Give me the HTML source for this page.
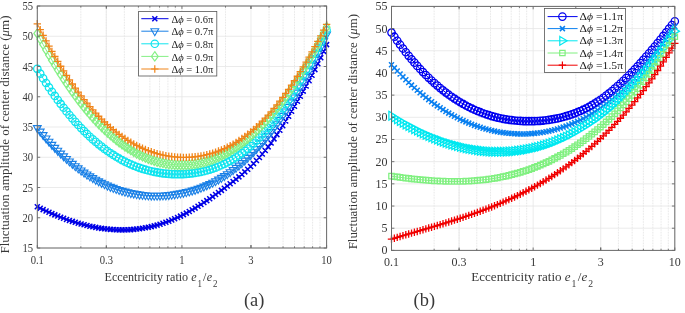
<!DOCTYPE html>
<html><head><meta charset="utf-8"><style>
html,body{margin:0;padding:0;background:#fff;width:685px;height:313px;overflow:hidden}
svg{display:block}
text{font-family:"Liberation Serif",serif}
.lg{fill:#1a1a1a}
</style></head><body>
<svg width="685" height="313" viewBox="0 0 685 313">
<defs>
<clipPath id="cl"><rect x="31.299999999999997" y="0.0" width="301.3" height="254.0"/></clipPath>
<clipPath id="cr"><rect x="385.5" y="0.40000000000000036" width="295.29999999999995" height="256.0"/></clipPath>
</defs>
<rect width="685" height="313" fill="#fff"/>
<line x1="80.84" y1="6.0" x2="80.84" y2="248.0" stroke="#dcdcdc" stroke-width="0.8" stroke-dasharray="0.8 0.8"/>
<line x1="106.32" y1="6.0" x2="106.32" y2="248.0" stroke="#dcdcdc" stroke-width="0.8" stroke-dasharray="0.8 0.8"/>
<line x1="124.39" y1="6.0" x2="124.39" y2="248.0" stroke="#dcdcdc" stroke-width="0.8" stroke-dasharray="0.8 0.8"/>
<line x1="138.41" y1="6.0" x2="138.41" y2="248.0" stroke="#dcdcdc" stroke-width="0.8" stroke-dasharray="0.8 0.8"/>
<line x1="149.86" y1="6.0" x2="149.86" y2="248.0" stroke="#dcdcdc" stroke-width="0.8" stroke-dasharray="0.8 0.8"/>
<line x1="159.54" y1="6.0" x2="159.54" y2="248.0" stroke="#dcdcdc" stroke-width="0.8" stroke-dasharray="0.8 0.8"/>
<line x1="167.93" y1="6.0" x2="167.93" y2="248.0" stroke="#dcdcdc" stroke-width="0.8" stroke-dasharray="0.8 0.8"/>
<line x1="175.33" y1="6.0" x2="175.33" y2="248.0" stroke="#dcdcdc" stroke-width="0.8" stroke-dasharray="0.8 0.8"/>
<line x1="225.49" y1="6.0" x2="225.49" y2="248.0" stroke="#dcdcdc" stroke-width="0.8" stroke-dasharray="0.8 0.8"/>
<line x1="269.04" y1="6.0" x2="269.04" y2="248.0" stroke="#dcdcdc" stroke-width="0.8" stroke-dasharray="0.8 0.8"/>
<line x1="283.06" y1="6.0" x2="283.06" y2="248.0" stroke="#dcdcdc" stroke-width="0.8" stroke-dasharray="0.8 0.8"/>
<line x1="294.51" y1="6.0" x2="294.51" y2="248.0" stroke="#dcdcdc" stroke-width="0.8" stroke-dasharray="0.8 0.8"/>
<line x1="304.19" y1="6.0" x2="304.19" y2="248.0" stroke="#dcdcdc" stroke-width="0.8" stroke-dasharray="0.8 0.8"/>
<line x1="312.58" y1="6.0" x2="312.58" y2="248.0" stroke="#dcdcdc" stroke-width="0.8" stroke-dasharray="0.8 0.8"/>
<line x1="319.98" y1="6.0" x2="319.98" y2="248.0" stroke="#dcdcdc" stroke-width="0.8" stroke-dasharray="0.8 0.8"/>
<line x1="37.30" y1="6.0" x2="37.30" y2="248.0" stroke="#e6e6e6" stroke-width="0.8"/>
<line x1="106.32" y1="6.0" x2="106.32" y2="248.0" stroke="#e6e6e6" stroke-width="0.8"/>
<line x1="181.95" y1="6.0" x2="181.95" y2="248.0" stroke="#e6e6e6" stroke-width="0.8"/>
<line x1="250.97" y1="6.0" x2="250.97" y2="248.0" stroke="#e6e6e6" stroke-width="0.8"/>
<line x1="326.60" y1="6.0" x2="326.60" y2="248.0" stroke="#e6e6e6" stroke-width="0.8"/>
<line x1="37.3" y1="248.00" x2="326.6" y2="248.00" stroke="#e6e6e6" stroke-width="0.8"/>
<line x1="37.3" y1="217.75" x2="326.6" y2="217.75" stroke="#e6e6e6" stroke-width="0.8"/>
<line x1="37.3" y1="187.50" x2="326.6" y2="187.50" stroke="#e6e6e6" stroke-width="0.8"/>
<line x1="37.3" y1="157.25" x2="326.6" y2="157.25" stroke="#e6e6e6" stroke-width="0.8"/>
<line x1="37.3" y1="127.00" x2="326.6" y2="127.00" stroke="#e6e6e6" stroke-width="0.8"/>
<line x1="37.3" y1="96.75" x2="326.6" y2="96.75" stroke="#e6e6e6" stroke-width="0.8"/>
<line x1="37.3" y1="66.50" x2="326.6" y2="66.50" stroke="#e6e6e6" stroke-width="0.8"/>
<line x1="37.3" y1="36.25" x2="326.6" y2="36.25" stroke="#e6e6e6" stroke-width="0.8"/>
<line x1="37.3" y1="6.00" x2="326.6" y2="6.00" stroke="#e6e6e6" stroke-width="0.8"/>
<line x1="434.14" y1="6.4" x2="434.14" y2="250.4" stroke="#dcdcdc" stroke-width="0.8" stroke-dasharray="0.8 0.8"/>
<line x1="459.08" y1="6.4" x2="459.08" y2="250.4" stroke="#dcdcdc" stroke-width="0.8" stroke-dasharray="0.8 0.8"/>
<line x1="476.78" y1="6.4" x2="476.78" y2="250.4" stroke="#dcdcdc" stroke-width="0.8" stroke-dasharray="0.8 0.8"/>
<line x1="490.51" y1="6.4" x2="490.51" y2="250.4" stroke="#dcdcdc" stroke-width="0.8" stroke-dasharray="0.8 0.8"/>
<line x1="501.73" y1="6.4" x2="501.73" y2="250.4" stroke="#dcdcdc" stroke-width="0.8" stroke-dasharray="0.8 0.8"/>
<line x1="511.21" y1="6.4" x2="511.21" y2="250.4" stroke="#dcdcdc" stroke-width="0.8" stroke-dasharray="0.8 0.8"/>
<line x1="519.42" y1="6.4" x2="519.42" y2="250.4" stroke="#dcdcdc" stroke-width="0.8" stroke-dasharray="0.8 0.8"/>
<line x1="526.67" y1="6.4" x2="526.67" y2="250.4" stroke="#dcdcdc" stroke-width="0.8" stroke-dasharray="0.8 0.8"/>
<line x1="575.79" y1="6.4" x2="575.79" y2="250.4" stroke="#dcdcdc" stroke-width="0.8" stroke-dasharray="0.8 0.8"/>
<line x1="618.43" y1="6.4" x2="618.43" y2="250.4" stroke="#dcdcdc" stroke-width="0.8" stroke-dasharray="0.8 0.8"/>
<line x1="632.16" y1="6.4" x2="632.16" y2="250.4" stroke="#dcdcdc" stroke-width="0.8" stroke-dasharray="0.8 0.8"/>
<line x1="643.38" y1="6.4" x2="643.38" y2="250.4" stroke="#dcdcdc" stroke-width="0.8" stroke-dasharray="0.8 0.8"/>
<line x1="652.86" y1="6.4" x2="652.86" y2="250.4" stroke="#dcdcdc" stroke-width="0.8" stroke-dasharray="0.8 0.8"/>
<line x1="661.07" y1="6.4" x2="661.07" y2="250.4" stroke="#dcdcdc" stroke-width="0.8" stroke-dasharray="0.8 0.8"/>
<line x1="668.32" y1="6.4" x2="668.32" y2="250.4" stroke="#dcdcdc" stroke-width="0.8" stroke-dasharray="0.8 0.8"/>
<line x1="391.50" y1="6.4" x2="391.50" y2="250.4" stroke="#e6e6e6" stroke-width="0.8"/>
<line x1="459.08" y1="6.4" x2="459.08" y2="250.4" stroke="#e6e6e6" stroke-width="0.8"/>
<line x1="533.15" y1="6.4" x2="533.15" y2="250.4" stroke="#e6e6e6" stroke-width="0.8"/>
<line x1="600.73" y1="6.4" x2="600.73" y2="250.4" stroke="#e6e6e6" stroke-width="0.8"/>
<line x1="674.80" y1="6.4" x2="674.80" y2="250.4" stroke="#e6e6e6" stroke-width="0.8"/>
<line x1="391.5" y1="250.40" x2="674.8" y2="250.40" stroke="#e6e6e6" stroke-width="0.8"/>
<line x1="391.5" y1="228.22" x2="674.8" y2="228.22" stroke="#e6e6e6" stroke-width="0.8"/>
<line x1="391.5" y1="206.04" x2="674.8" y2="206.04" stroke="#e6e6e6" stroke-width="0.8"/>
<line x1="391.5" y1="183.85" x2="674.8" y2="183.85" stroke="#e6e6e6" stroke-width="0.8"/>
<line x1="391.5" y1="161.67" x2="674.8" y2="161.67" stroke="#e6e6e6" stroke-width="0.8"/>
<line x1="391.5" y1="139.49" x2="674.8" y2="139.49" stroke="#e6e6e6" stroke-width="0.8"/>
<line x1="391.5" y1="117.31" x2="674.8" y2="117.31" stroke="#e6e6e6" stroke-width="0.8"/>
<line x1="391.5" y1="95.13" x2="674.8" y2="95.13" stroke="#e6e6e6" stroke-width="0.8"/>
<line x1="391.5" y1="72.95" x2="674.8" y2="72.95" stroke="#e6e6e6" stroke-width="0.8"/>
<line x1="391.5" y1="50.76" x2="674.8" y2="50.76" stroke="#e6e6e6" stroke-width="0.8"/>
<line x1="391.5" y1="28.58" x2="674.8" y2="28.58" stroke="#e6e6e6" stroke-width="0.8"/>
<line x1="391.5" y1="6.40" x2="674.8" y2="6.40" stroke="#e6e6e6" stroke-width="0.8"/>
<g clip-path="url(#cl)"><path d="M37.30 206.77L40.22 208.21L43.14 209.62L46.07 210.99L48.99 212.32L51.91 213.61L54.83 214.86L57.76 216.06L60.68 217.22L63.60 218.34L66.52 219.41L69.44 220.43L72.37 221.40L75.29 222.33L78.21 223.21L81.13 224.04L84.06 224.81L86.98 225.54L89.90 226.21L92.82 226.83L95.74 227.40L98.67 227.91L101.59 228.36L104.51 228.76L107.43 229.09L110.36 229.37L113.28 229.59L116.20 229.75L119.12 229.85L122.04 229.88L124.97 229.86L127.89 229.76L130.81 229.61L133.73 229.38L136.66 229.09L139.58 228.73L142.50 228.31L145.42 227.81L148.34 227.24L151.27 226.60L154.19 225.89L157.11 225.11L160.03 224.25L162.96 223.32L165.88 222.31L168.80 221.23L171.72 220.07L174.64 218.83L177.57 217.51L180.49 216.11L183.41 214.64L186.33 213.10L189.26 211.50L192.18 209.83L195.10 208.10L198.02 206.32L200.94 204.48L203.87 202.59L206.79 200.65L209.71 198.67L212.63 196.65L215.56 194.59L218.48 192.50L221.40 190.37L224.32 188.22L227.24 186.04L230.17 183.83L233.09 181.58L236.01 179.27L238.93 176.90L241.86 174.45L244.78 171.90L247.70 169.26L250.62 166.50L253.54 163.61L256.47 160.59L259.39 157.41L262.31 154.08L265.23 150.57L268.16 146.87L271.08 142.98L274.00 138.90L276.92 134.64L279.84 130.23L282.77 125.67L285.69 120.99L288.61 116.19L291.53 111.31L294.46 106.34L297.38 101.31L300.30 96.24L303.22 91.13L306.14 85.95L309.07 80.67L311.99 75.24L314.91 69.64L317.83 63.81L320.76 57.73L323.68 51.35L326.60 44.64" stroke="#0000e6" stroke-width="1" fill="none"/><path d="M34.80 204.27L39.80 209.27M34.80 209.27L39.80 204.27M37.72 205.71L42.72 210.71M37.72 210.71L42.72 205.71M40.64 207.12L45.64 212.12M40.64 212.12L45.64 207.12M43.57 208.49L48.57 213.49M43.57 213.49L48.57 208.49M46.49 209.82L51.49 214.82M46.49 214.82L51.49 209.82M49.41 211.11L54.41 216.11M49.41 216.11L54.41 211.11M52.33 212.36L57.33 217.36M52.33 217.36L57.33 212.36M55.26 213.56L60.26 218.56M55.26 218.56L60.26 213.56M58.18 214.72L63.18 219.72M58.18 219.72L63.18 214.72M61.10 215.84L66.10 220.84M61.10 220.84L66.10 215.84M64.02 216.91L69.02 221.91M64.02 221.91L69.02 216.91M66.94 217.93L71.94 222.93M66.94 222.93L71.94 217.93M69.87 218.90L74.87 223.90M69.87 223.90L74.87 218.90M72.79 219.83L77.79 224.83M72.79 224.83L77.79 219.83M75.71 220.71L80.71 225.71M75.71 225.71L80.71 220.71M78.63 221.54L83.63 226.54M78.63 226.54L83.63 221.54M81.56 222.31L86.56 227.31M81.56 227.31L86.56 222.31M84.48 223.04L89.48 228.04M84.48 228.04L89.48 223.04M87.40 223.71L92.40 228.71M87.40 228.71L92.40 223.71M90.32 224.33L95.32 229.33M90.32 229.33L95.32 224.33M93.24 224.90L98.24 229.90M93.24 229.90L98.24 224.90M96.17 225.41L101.17 230.41M96.17 230.41L101.17 225.41M99.09 225.86L104.09 230.86M99.09 230.86L104.09 225.86M102.01 226.26L107.01 231.26M102.01 231.26L107.01 226.26M104.93 226.59L109.93 231.59M104.93 231.59L109.93 226.59M107.86 226.87L112.86 231.87M107.86 231.87L112.86 226.87M110.78 227.09L115.78 232.09M110.78 232.09L115.78 227.09M113.70 227.25L118.70 232.25M113.70 232.25L118.70 227.25M116.62 227.35L121.62 232.35M116.62 232.35L121.62 227.35M119.54 227.38L124.54 232.38M119.54 232.38L124.54 227.38M122.47 227.36L127.47 232.36M122.47 232.36L127.47 227.36M125.39 227.26L130.39 232.26M125.39 232.26L130.39 227.26M128.31 227.11L133.31 232.11M128.31 232.11L133.31 227.11M131.23 226.88L136.23 231.88M131.23 231.88L136.23 226.88M134.16 226.59L139.16 231.59M134.16 231.59L139.16 226.59M137.08 226.23L142.08 231.23M137.08 231.23L142.08 226.23M140.00 225.81L145.00 230.81M140.00 230.81L145.00 225.81M142.92 225.31L147.92 230.31M142.92 230.31L147.92 225.31M145.84 224.74L150.84 229.74M145.84 229.74L150.84 224.74M148.77 224.10L153.77 229.10M148.77 229.10L153.77 224.10M151.69 223.39L156.69 228.39M151.69 228.39L156.69 223.39M154.61 222.61L159.61 227.61M154.61 227.61L159.61 222.61M157.53 221.75L162.53 226.75M157.53 226.75L162.53 221.75M160.46 220.82L165.46 225.82M160.46 225.82L165.46 220.82M163.38 219.81L168.38 224.81M163.38 224.81L168.38 219.81M166.30 218.73L171.30 223.73M166.30 223.73L171.30 218.73M169.22 217.57L174.22 222.57M169.22 222.57L174.22 217.57M172.14 216.33L177.14 221.33M172.14 221.33L177.14 216.33M175.07 215.01L180.07 220.01M175.07 220.01L180.07 215.01M177.99 213.61L182.99 218.61M177.99 218.61L182.99 213.61M180.91 212.14L185.91 217.14M180.91 217.14L185.91 212.14M183.83 210.60L188.83 215.60M183.83 215.60L188.83 210.60M186.76 209.00L191.76 214.00M186.76 214.00L191.76 209.00M189.68 207.33L194.68 212.33M189.68 212.33L194.68 207.33M192.60 205.60L197.60 210.60M192.60 210.60L197.60 205.60M195.52 203.82L200.52 208.82M195.52 208.82L200.52 203.82M198.44 201.98L203.44 206.98M198.44 206.98L203.44 201.98M201.37 200.09L206.37 205.09M201.37 205.09L206.37 200.09M204.29 198.15L209.29 203.15M204.29 203.15L209.29 198.15M207.21 196.17L212.21 201.17M207.21 201.17L212.21 196.17M210.13 194.15L215.13 199.15M210.13 199.15L215.13 194.15M213.06 192.09L218.06 197.09M213.06 197.09L218.06 192.09M215.98 190.00L220.98 195.00M215.98 195.00L220.98 190.00M218.90 187.87L223.90 192.87M218.90 192.87L223.90 187.87M221.82 185.72L226.82 190.72M221.82 190.72L226.82 185.72M224.74 183.54L229.74 188.54M224.74 188.54L229.74 183.54M227.67 181.33L232.67 186.33M227.67 186.33L232.67 181.33M230.59 179.08L235.59 184.08M230.59 184.08L235.59 179.08M233.51 176.77L238.51 181.77M233.51 181.77L238.51 176.77M236.43 174.40L241.43 179.40M236.43 179.40L241.43 174.40M239.36 171.95L244.36 176.95M239.36 176.95L244.36 171.95M242.28 169.40L247.28 174.40M242.28 174.40L247.28 169.40M245.20 166.76L250.20 171.76M245.20 171.76L250.20 166.76M248.12 164.00L253.12 169.00M248.12 169.00L253.12 164.00M251.04 161.11L256.04 166.11M251.04 166.11L256.04 161.11M253.97 158.09L258.97 163.09M253.97 163.09L258.97 158.09M256.89 154.91L261.89 159.91M256.89 159.91L261.89 154.91M259.81 151.58L264.81 156.58M259.81 156.58L264.81 151.58M262.73 148.07L267.73 153.07M262.73 153.07L267.73 148.07M265.66 144.37L270.66 149.37M265.66 149.37L270.66 144.37M268.58 140.48L273.58 145.48M268.58 145.48L273.58 140.48M271.50 136.40L276.50 141.40M271.50 141.40L276.50 136.40M274.42 132.14L279.42 137.14M274.42 137.14L279.42 132.14M277.34 127.73L282.34 132.73M277.34 132.73L282.34 127.73M280.27 123.17L285.27 128.17M280.27 128.17L285.27 123.17M283.19 118.49L288.19 123.49M283.19 123.49L288.19 118.49M286.11 113.69L291.11 118.69M286.11 118.69L291.11 113.69M289.03 108.81L294.03 113.81M289.03 113.81L294.03 108.81M291.96 103.84L296.96 108.84M291.96 108.84L296.96 103.84M294.88 98.81L299.88 103.81M294.88 103.81L299.88 98.81M297.80 93.74L302.80 98.74M297.80 98.74L302.80 93.74M300.72 88.63L305.72 93.63M300.72 93.63L305.72 88.63M303.64 83.45L308.64 88.45M303.64 88.45L308.64 83.45M306.57 78.17L311.57 83.17M306.57 83.17L311.57 78.17M309.49 72.74L314.49 77.74M309.49 77.74L314.49 72.74M312.41 67.14L317.41 72.14M312.41 72.14L317.41 67.14M315.33 61.31L320.33 66.31M315.33 66.31L320.33 61.31M318.26 55.23L323.26 60.23M318.26 60.23L323.26 55.23M321.18 48.85L326.18 53.85M321.18 53.85L326.18 48.85M324.10 42.14L329.10 47.14M324.10 47.14L329.10 42.14" stroke="#0000e6" stroke-width="1.5" fill="none"/><path d="M37.30 128.08L40.22 131.65L43.14 135.11L46.07 138.46L48.99 141.70L51.91 144.84L54.83 147.86L57.76 150.79L60.68 153.61L63.60 156.33L66.52 158.95L69.44 161.46L72.37 163.88L75.29 166.20L78.21 168.42L81.13 170.55L84.06 172.58L86.98 174.52L89.90 176.36L92.82 178.12L95.74 179.78L98.67 181.35L101.59 182.84L104.51 184.24L107.43 185.55L110.36 186.77L113.28 187.91L116.20 188.97L119.12 189.95L122.04 190.84L124.97 191.66L127.89 192.40L130.81 193.06L133.73 193.64L136.66 194.15L139.58 194.58L142.50 194.94L145.42 195.22L148.34 195.44L151.27 195.59L154.19 195.66L157.11 195.67L160.03 195.61L162.96 195.49L165.88 195.30L168.80 195.05L171.72 194.73L174.64 194.35L177.57 193.91L180.49 193.40L183.41 192.82L186.33 192.16L189.26 191.44L192.18 190.63L195.10 189.75L198.02 188.79L200.94 187.74L203.87 186.61L206.79 185.39L209.71 184.08L212.63 182.68L215.56 181.19L218.48 179.60L221.40 177.91L224.32 176.12L227.24 174.23L230.17 172.23L233.09 170.13L236.01 167.91L238.93 165.59L241.86 163.15L244.78 160.59L247.70 157.91L250.62 155.12L253.54 152.20L256.47 149.16L259.39 145.99L262.31 142.70L265.23 139.27L268.16 135.71L271.08 132.03L274.00 128.20L276.92 124.24L279.84 120.15L282.77 115.91L285.69 111.53L288.61 107.02L291.53 102.35L294.46 97.54L297.38 92.59L300.30 87.48L303.22 82.23L306.14 76.82L309.07 71.26L311.99 65.54L314.91 59.67L317.83 53.64L320.76 47.44L323.68 41.09L326.60 34.57" stroke="#1a80e6" stroke-width="1" fill="none"/><path d="M33.40 125.58H41.20L37.30 132.58ZM36.32 129.15H44.12L40.22 136.15ZM39.24 132.61H47.04L43.14 139.61ZM42.17 135.96H49.97L46.07 142.96ZM45.09 139.20H52.89L48.99 146.20ZM48.01 142.34H55.81L51.91 149.34ZM50.93 145.36H58.73L54.83 152.36ZM53.86 148.29H61.66L57.76 155.29ZM56.78 151.11H64.58L60.68 158.11ZM59.70 153.83H67.50L63.60 160.83ZM62.62 156.45H70.42L66.52 163.45ZM65.54 158.96H73.34L69.44 165.96ZM68.47 161.38H76.27L72.37 168.38ZM71.39 163.70H79.19L75.29 170.70ZM74.31 165.92H82.11L78.21 172.92ZM77.23 168.05H85.03L81.13 175.05ZM80.16 170.08H87.96L84.06 177.08ZM83.08 172.02H90.88L86.98 179.02ZM86.00 173.86H93.80L89.90 180.86ZM88.92 175.62H96.72L92.82 182.62ZM91.84 177.28H99.64L95.74 184.28ZM94.77 178.85H102.57L98.67 185.85ZM97.69 180.34H105.49L101.59 187.34ZM100.61 181.74H108.41L104.51 188.74ZM103.53 183.05H111.33L107.43 190.05ZM106.46 184.27H114.26L110.36 191.27ZM109.38 185.41H117.18L113.28 192.41ZM112.30 186.47H120.10L116.20 193.47ZM115.22 187.45H123.02L119.12 194.45ZM118.14 188.34H125.94L122.04 195.34ZM121.07 189.16H128.87L124.97 196.16ZM123.99 189.90H131.79L127.89 196.90ZM126.91 190.56H134.71L130.81 197.56ZM129.83 191.14H137.63L133.73 198.14ZM132.76 191.65H140.56L136.66 198.65ZM135.68 192.08H143.48L139.58 199.08ZM138.60 192.44H146.40L142.50 199.44ZM141.52 192.72H149.32L145.42 199.72ZM144.44 192.94H152.24L148.34 199.94ZM147.37 193.09H155.17L151.27 200.09ZM150.29 193.16H158.09L154.19 200.16ZM153.21 193.17H161.01L157.11 200.17ZM156.13 193.11H163.93L160.03 200.11ZM159.06 192.99H166.86L162.96 199.99ZM161.98 192.80H169.78L165.88 199.80ZM164.90 192.55H172.70L168.80 199.55ZM167.82 192.23H175.62L171.72 199.23ZM170.74 191.85H178.54L174.64 198.85ZM173.67 191.41H181.47L177.57 198.41ZM176.59 190.90H184.39L180.49 197.90ZM179.51 190.32H187.31L183.41 197.32ZM182.43 189.66H190.23L186.33 196.66ZM185.36 188.94H193.16L189.26 195.94ZM188.28 188.13H196.08L192.18 195.13ZM191.20 187.25H199.00L195.10 194.25ZM194.12 186.29H201.92L198.02 193.29ZM197.04 185.24H204.84L200.94 192.24ZM199.97 184.11H207.77L203.87 191.11ZM202.89 182.89H210.69L206.79 189.89ZM205.81 181.58H213.61L209.71 188.58ZM208.73 180.18H216.53L212.63 187.18ZM211.66 178.69H219.46L215.56 185.69ZM214.58 177.10H222.38L218.48 184.10ZM217.50 175.41H225.30L221.40 182.41ZM220.42 173.62H228.22L224.32 180.62ZM223.34 171.73H231.14L227.24 178.73ZM226.27 169.73H234.07L230.17 176.73ZM229.19 167.63H236.99L233.09 174.63ZM232.11 165.41H239.91L236.01 172.41ZM235.03 163.09H242.83L238.93 170.09ZM237.96 160.65H245.76L241.86 167.65ZM240.88 158.09H248.68L244.78 165.09ZM243.80 155.41H251.60L247.70 162.41ZM246.72 152.62H254.52L250.62 159.62ZM249.64 149.70H257.44L253.54 156.70ZM252.57 146.66H260.37L256.47 153.66ZM255.49 143.49H263.29L259.39 150.49ZM258.41 140.20H266.21L262.31 147.20ZM261.33 136.77H269.13L265.23 143.77ZM264.26 133.21H272.06L268.16 140.21ZM267.18 129.53H274.98L271.08 136.53ZM270.10 125.70H277.90L274.00 132.70ZM273.02 121.74H280.82L276.92 128.74ZM275.94 117.65H283.74L279.84 124.65ZM278.87 113.41H286.67L282.77 120.41ZM281.79 109.03H289.59L285.69 116.03ZM284.71 104.52H292.51L288.61 111.52ZM287.63 99.85H295.43L291.53 106.85ZM290.56 95.04H298.36L294.46 102.04ZM293.48 90.09H301.28L297.38 97.09ZM296.40 84.98H304.20L300.30 91.98ZM299.32 79.73H307.12L303.22 86.73ZM302.24 74.32H310.04L306.14 81.32ZM305.17 68.76H312.97L309.07 75.76ZM308.09 63.04H315.89L311.99 70.04ZM311.01 57.17H318.81L314.91 64.17ZM313.93 51.14H321.73L317.83 58.14ZM316.86 44.94H324.66L320.76 51.94ZM319.78 38.59H327.58L323.68 45.59ZM322.70 32.07H330.50L326.60 39.07Z" stroke="#1a80e6" stroke-width="1.1" fill="none"/><path d="M37.30 68.85L40.22 73.69L43.14 78.40L46.07 82.98L48.99 87.43L51.91 91.75L54.83 95.94L57.76 100.00L60.68 103.94L63.60 107.75L66.52 111.45L69.44 115.02L72.37 118.47L75.29 121.80L78.21 125.01L81.13 128.11L84.06 131.10L86.98 133.97L89.90 136.73L92.82 139.38L95.74 141.92L98.67 144.35L101.59 146.67L104.51 148.89L107.43 151.01L110.36 153.03L113.28 154.94L116.20 156.75L119.12 158.47L122.04 160.09L124.97 161.61L127.89 163.04L130.81 164.38L133.73 165.62L136.66 166.78L139.58 167.84L142.50 168.82L145.42 169.71L148.34 170.52L151.27 171.25L154.19 171.89L157.11 172.45L160.03 172.93L162.96 173.34L165.88 173.66L168.80 173.92L171.72 174.09L174.64 174.20L177.57 174.23L180.49 174.20L183.41 174.10L186.33 173.92L189.26 173.68L192.18 173.35L195.10 172.95L198.02 172.47L200.94 171.90L203.87 171.24L206.79 170.49L209.71 169.65L212.63 168.71L215.56 167.66L218.48 166.51L221.40 165.26L224.32 163.89L227.24 162.40L230.17 160.80L233.09 159.08L236.01 157.23L238.93 155.26L241.86 153.16L244.78 150.92L247.70 148.55L250.62 146.03L253.54 143.37L256.47 140.57L259.39 137.62L262.31 134.51L265.23 131.24L268.16 127.82L271.08 124.24L274.00 120.49L276.92 116.59L279.84 112.53L282.77 108.33L285.69 103.98L288.61 99.49L291.53 94.87L294.46 90.11L297.38 85.22L300.30 80.21L303.22 75.09L306.14 69.84L309.07 64.49L311.99 59.02L314.91 53.45L317.83 47.79L320.76 42.03L323.68 36.17L326.60 30.23" stroke="#10e4ee" stroke-width="1" fill="none"/><path d="M33.60 68.85a3.7 3.7 0 1 0 7.4 0a3.7 3.7 0 1 0 -7.4 0M36.52 73.69a3.7 3.7 0 1 0 7.4 0a3.7 3.7 0 1 0 -7.4 0M39.44 78.40a3.7 3.7 0 1 0 7.4 0a3.7 3.7 0 1 0 -7.4 0M42.37 82.98a3.7 3.7 0 1 0 7.4 0a3.7 3.7 0 1 0 -7.4 0M45.29 87.43a3.7 3.7 0 1 0 7.4 0a3.7 3.7 0 1 0 -7.4 0M48.21 91.75a3.7 3.7 0 1 0 7.4 0a3.7 3.7 0 1 0 -7.4 0M51.13 95.94a3.7 3.7 0 1 0 7.4 0a3.7 3.7 0 1 0 -7.4 0M54.06 100.00a3.7 3.7 0 1 0 7.4 0a3.7 3.7 0 1 0 -7.4 0M56.98 103.94a3.7 3.7 0 1 0 7.4 0a3.7 3.7 0 1 0 -7.4 0M59.90 107.75a3.7 3.7 0 1 0 7.4 0a3.7 3.7 0 1 0 -7.4 0M62.82 111.45a3.7 3.7 0 1 0 7.4 0a3.7 3.7 0 1 0 -7.4 0M65.74 115.02a3.7 3.7 0 1 0 7.4 0a3.7 3.7 0 1 0 -7.4 0M68.67 118.47a3.7 3.7 0 1 0 7.4 0a3.7 3.7 0 1 0 -7.4 0M71.59 121.80a3.7 3.7 0 1 0 7.4 0a3.7 3.7 0 1 0 -7.4 0M74.51 125.01a3.7 3.7 0 1 0 7.4 0a3.7 3.7 0 1 0 -7.4 0M77.43 128.11a3.7 3.7 0 1 0 7.4 0a3.7 3.7 0 1 0 -7.4 0M80.36 131.10a3.7 3.7 0 1 0 7.4 0a3.7 3.7 0 1 0 -7.4 0M83.28 133.97a3.7 3.7 0 1 0 7.4 0a3.7 3.7 0 1 0 -7.4 0M86.20 136.73a3.7 3.7 0 1 0 7.4 0a3.7 3.7 0 1 0 -7.4 0M89.12 139.38a3.7 3.7 0 1 0 7.4 0a3.7 3.7 0 1 0 -7.4 0M92.04 141.92a3.7 3.7 0 1 0 7.4 0a3.7 3.7 0 1 0 -7.4 0M94.97 144.35a3.7 3.7 0 1 0 7.4 0a3.7 3.7 0 1 0 -7.4 0M97.89 146.67a3.7 3.7 0 1 0 7.4 0a3.7 3.7 0 1 0 -7.4 0M100.81 148.89a3.7 3.7 0 1 0 7.4 0a3.7 3.7 0 1 0 -7.4 0M103.73 151.01a3.7 3.7 0 1 0 7.4 0a3.7 3.7 0 1 0 -7.4 0M106.66 153.03a3.7 3.7 0 1 0 7.4 0a3.7 3.7 0 1 0 -7.4 0M109.58 154.94a3.7 3.7 0 1 0 7.4 0a3.7 3.7 0 1 0 -7.4 0M112.50 156.75a3.7 3.7 0 1 0 7.4 0a3.7 3.7 0 1 0 -7.4 0M115.42 158.47a3.7 3.7 0 1 0 7.4 0a3.7 3.7 0 1 0 -7.4 0M118.34 160.09a3.7 3.7 0 1 0 7.4 0a3.7 3.7 0 1 0 -7.4 0M121.27 161.61a3.7 3.7 0 1 0 7.4 0a3.7 3.7 0 1 0 -7.4 0M124.19 163.04a3.7 3.7 0 1 0 7.4 0a3.7 3.7 0 1 0 -7.4 0M127.11 164.38a3.7 3.7 0 1 0 7.4 0a3.7 3.7 0 1 0 -7.4 0M130.03 165.62a3.7 3.7 0 1 0 7.4 0a3.7 3.7 0 1 0 -7.4 0M132.96 166.78a3.7 3.7 0 1 0 7.4 0a3.7 3.7 0 1 0 -7.4 0M135.88 167.84a3.7 3.7 0 1 0 7.4 0a3.7 3.7 0 1 0 -7.4 0M138.80 168.82a3.7 3.7 0 1 0 7.4 0a3.7 3.7 0 1 0 -7.4 0M141.72 169.71a3.7 3.7 0 1 0 7.4 0a3.7 3.7 0 1 0 -7.4 0M144.64 170.52a3.7 3.7 0 1 0 7.4 0a3.7 3.7 0 1 0 -7.4 0M147.57 171.25a3.7 3.7 0 1 0 7.4 0a3.7 3.7 0 1 0 -7.4 0M150.49 171.89a3.7 3.7 0 1 0 7.4 0a3.7 3.7 0 1 0 -7.4 0M153.41 172.45a3.7 3.7 0 1 0 7.4 0a3.7 3.7 0 1 0 -7.4 0M156.33 172.93a3.7 3.7 0 1 0 7.4 0a3.7 3.7 0 1 0 -7.4 0M159.26 173.34a3.7 3.7 0 1 0 7.4 0a3.7 3.7 0 1 0 -7.4 0M162.18 173.66a3.7 3.7 0 1 0 7.4 0a3.7 3.7 0 1 0 -7.4 0M165.10 173.92a3.7 3.7 0 1 0 7.4 0a3.7 3.7 0 1 0 -7.4 0M168.02 174.09a3.7 3.7 0 1 0 7.4 0a3.7 3.7 0 1 0 -7.4 0M170.94 174.20a3.7 3.7 0 1 0 7.4 0a3.7 3.7 0 1 0 -7.4 0M173.87 174.23a3.7 3.7 0 1 0 7.4 0a3.7 3.7 0 1 0 -7.4 0M176.79 174.20a3.7 3.7 0 1 0 7.4 0a3.7 3.7 0 1 0 -7.4 0M179.71 174.10a3.7 3.7 0 1 0 7.4 0a3.7 3.7 0 1 0 -7.4 0M182.63 173.92a3.7 3.7 0 1 0 7.4 0a3.7 3.7 0 1 0 -7.4 0M185.56 173.68a3.7 3.7 0 1 0 7.4 0a3.7 3.7 0 1 0 -7.4 0M188.48 173.35a3.7 3.7 0 1 0 7.4 0a3.7 3.7 0 1 0 -7.4 0M191.40 172.95a3.7 3.7 0 1 0 7.4 0a3.7 3.7 0 1 0 -7.4 0M194.32 172.47a3.7 3.7 0 1 0 7.4 0a3.7 3.7 0 1 0 -7.4 0M197.24 171.90a3.7 3.7 0 1 0 7.4 0a3.7 3.7 0 1 0 -7.4 0M200.17 171.24a3.7 3.7 0 1 0 7.4 0a3.7 3.7 0 1 0 -7.4 0M203.09 170.49a3.7 3.7 0 1 0 7.4 0a3.7 3.7 0 1 0 -7.4 0M206.01 169.65a3.7 3.7 0 1 0 7.4 0a3.7 3.7 0 1 0 -7.4 0M208.93 168.71a3.7 3.7 0 1 0 7.4 0a3.7 3.7 0 1 0 -7.4 0M211.86 167.66a3.7 3.7 0 1 0 7.4 0a3.7 3.7 0 1 0 -7.4 0M214.78 166.51a3.7 3.7 0 1 0 7.4 0a3.7 3.7 0 1 0 -7.4 0M217.70 165.26a3.7 3.7 0 1 0 7.4 0a3.7 3.7 0 1 0 -7.4 0M220.62 163.89a3.7 3.7 0 1 0 7.4 0a3.7 3.7 0 1 0 -7.4 0M223.54 162.40a3.7 3.7 0 1 0 7.4 0a3.7 3.7 0 1 0 -7.4 0M226.47 160.80a3.7 3.7 0 1 0 7.4 0a3.7 3.7 0 1 0 -7.4 0M229.39 159.08a3.7 3.7 0 1 0 7.4 0a3.7 3.7 0 1 0 -7.4 0M232.31 157.23a3.7 3.7 0 1 0 7.4 0a3.7 3.7 0 1 0 -7.4 0M235.23 155.26a3.7 3.7 0 1 0 7.4 0a3.7 3.7 0 1 0 -7.4 0M238.16 153.16a3.7 3.7 0 1 0 7.4 0a3.7 3.7 0 1 0 -7.4 0M241.08 150.92a3.7 3.7 0 1 0 7.4 0a3.7 3.7 0 1 0 -7.4 0M244.00 148.55a3.7 3.7 0 1 0 7.4 0a3.7 3.7 0 1 0 -7.4 0M246.92 146.03a3.7 3.7 0 1 0 7.4 0a3.7 3.7 0 1 0 -7.4 0M249.84 143.37a3.7 3.7 0 1 0 7.4 0a3.7 3.7 0 1 0 -7.4 0M252.77 140.57a3.7 3.7 0 1 0 7.4 0a3.7 3.7 0 1 0 -7.4 0M255.69 137.62a3.7 3.7 0 1 0 7.4 0a3.7 3.7 0 1 0 -7.4 0M258.61 134.51a3.7 3.7 0 1 0 7.4 0a3.7 3.7 0 1 0 -7.4 0M261.53 131.24a3.7 3.7 0 1 0 7.4 0a3.7 3.7 0 1 0 -7.4 0M264.46 127.82a3.7 3.7 0 1 0 7.4 0a3.7 3.7 0 1 0 -7.4 0M267.38 124.24a3.7 3.7 0 1 0 7.4 0a3.7 3.7 0 1 0 -7.4 0M270.30 120.49a3.7 3.7 0 1 0 7.4 0a3.7 3.7 0 1 0 -7.4 0M273.22 116.59a3.7 3.7 0 1 0 7.4 0a3.7 3.7 0 1 0 -7.4 0M276.14 112.53a3.7 3.7 0 1 0 7.4 0a3.7 3.7 0 1 0 -7.4 0M279.07 108.33a3.7 3.7 0 1 0 7.4 0a3.7 3.7 0 1 0 -7.4 0M281.99 103.98a3.7 3.7 0 1 0 7.4 0a3.7 3.7 0 1 0 -7.4 0M284.91 99.49a3.7 3.7 0 1 0 7.4 0a3.7 3.7 0 1 0 -7.4 0M287.83 94.87a3.7 3.7 0 1 0 7.4 0a3.7 3.7 0 1 0 -7.4 0M290.76 90.11a3.7 3.7 0 1 0 7.4 0a3.7 3.7 0 1 0 -7.4 0M293.68 85.22a3.7 3.7 0 1 0 7.4 0a3.7 3.7 0 1 0 -7.4 0M296.60 80.21a3.7 3.7 0 1 0 7.4 0a3.7 3.7 0 1 0 -7.4 0M299.52 75.09a3.7 3.7 0 1 0 7.4 0a3.7 3.7 0 1 0 -7.4 0M302.44 69.84a3.7 3.7 0 1 0 7.4 0a3.7 3.7 0 1 0 -7.4 0M305.37 64.49a3.7 3.7 0 1 0 7.4 0a3.7 3.7 0 1 0 -7.4 0M308.29 59.02a3.7 3.7 0 1 0 7.4 0a3.7 3.7 0 1 0 -7.4 0M311.21 53.45a3.7 3.7 0 1 0 7.4 0a3.7 3.7 0 1 0 -7.4 0M314.13 47.79a3.7 3.7 0 1 0 7.4 0a3.7 3.7 0 1 0 -7.4 0M317.06 42.03a3.7 3.7 0 1 0 7.4 0a3.7 3.7 0 1 0 -7.4 0M319.98 36.17a3.7 3.7 0 1 0 7.4 0a3.7 3.7 0 1 0 -7.4 0M322.90 30.23a3.7 3.7 0 1 0 7.4 0a3.7 3.7 0 1 0 -7.4 0" stroke="#10e4ee" stroke-width="1.3" fill="none"/><path d="M37.30 33.49L40.22 39.09L43.14 44.55L46.07 49.87L48.99 55.07L51.91 60.13L54.83 65.06L57.76 69.87L60.68 74.54L63.60 79.08L66.52 83.50L69.44 87.79L72.37 91.96L75.29 96.00L78.21 99.91L81.13 103.70L84.06 107.37L86.98 110.92L89.90 114.35L92.82 117.65L95.74 120.84L98.67 123.91L101.59 126.86L104.51 129.69L107.43 132.41L110.36 135.01L113.28 137.50L116.20 139.87L119.12 142.13L122.04 144.28L124.97 146.32L127.89 148.24L130.81 150.06L133.73 151.77L136.66 153.37L139.58 154.86L142.50 156.25L145.42 157.53L148.34 158.70L151.27 159.78L154.19 160.75L157.11 161.61L160.03 162.38L162.96 163.04L165.88 163.60L168.80 164.07L171.72 164.44L174.64 164.70L177.57 164.88L180.49 164.95L183.41 164.93L186.33 164.82L189.26 164.61L192.18 164.30L195.10 163.90L198.02 163.39L200.94 162.79L203.87 162.08L206.79 161.27L209.71 160.36L212.63 159.34L215.56 158.22L218.48 156.99L221.40 155.65L224.32 154.21L227.24 152.65L230.17 150.99L233.09 149.21L236.01 147.32L238.93 145.31L241.86 143.20L244.78 140.96L247.70 138.61L250.62 136.14L253.54 133.55L256.47 130.84L259.39 128.02L262.31 125.06L265.23 121.99L268.16 118.79L271.08 115.47L274.00 112.02L276.92 108.44L279.84 104.74L282.77 100.91L285.69 96.94L288.61 92.85L291.53 88.62L294.46 84.26L297.38 79.76L300.30 75.13L303.22 70.37L306.14 65.46L309.07 60.42L311.99 55.24L314.91 49.91L317.83 44.45L320.76 38.84L323.68 33.09L326.60 27.19" stroke="#86f086" stroke-width="1" fill="none"/><path d="M37.30 28.79L40.70 33.49L37.30 38.19L33.90 33.49ZM40.22 34.39L43.62 39.09L40.22 43.79L36.82 39.09ZM43.14 39.85L46.54 44.55L43.14 49.25L39.74 44.55ZM46.07 45.17L49.47 49.87L46.07 54.57L42.67 49.87ZM48.99 50.37L52.39 55.07L48.99 59.77L45.59 55.07ZM51.91 55.43L55.31 60.13L51.91 64.83L48.51 60.13ZM54.83 60.36L58.23 65.06L54.83 69.76L51.43 65.06ZM57.76 65.17L61.16 69.87L57.76 74.57L54.36 69.87ZM60.68 69.84L64.08 74.54L60.68 79.24L57.28 74.54ZM63.60 74.38L67.00 79.08L63.60 83.78L60.20 79.08ZM66.52 78.80L69.92 83.50L66.52 88.20L63.12 83.50ZM69.44 83.09L72.84 87.79L69.44 92.49L66.04 87.79ZM72.37 87.26L75.77 91.96L72.37 96.66L68.97 91.96ZM75.29 91.30L78.69 96.00L75.29 100.70L71.89 96.00ZM78.21 95.21L81.61 99.91L78.21 104.61L74.81 99.91ZM81.13 99.00L84.53 103.70L81.13 108.40L77.73 103.70ZM84.06 102.67L87.46 107.37L84.06 112.07L80.66 107.37ZM86.98 106.22L90.38 110.92L86.98 115.62L83.58 110.92ZM89.90 109.65L93.30 114.35L89.90 119.05L86.50 114.35ZM92.82 112.95L96.22 117.65L92.82 122.35L89.42 117.65ZM95.74 116.14L99.14 120.84L95.74 125.54L92.34 120.84ZM98.67 119.21L102.07 123.91L98.67 128.61L95.27 123.91ZM101.59 122.16L104.99 126.86L101.59 131.56L98.19 126.86ZM104.51 124.99L107.91 129.69L104.51 134.39L101.11 129.69ZM107.43 127.71L110.83 132.41L107.43 137.11L104.03 132.41ZM110.36 130.31L113.76 135.01L110.36 139.71L106.96 135.01ZM113.28 132.80L116.68 137.50L113.28 142.20L109.88 137.50ZM116.20 135.17L119.60 139.87L116.20 144.57L112.80 139.87ZM119.12 137.43L122.52 142.13L119.12 146.83L115.72 142.13ZM122.04 139.58L125.44 144.28L122.04 148.98L118.64 144.28ZM124.97 141.62L128.37 146.32L124.97 151.02L121.57 146.32ZM127.89 143.54L131.29 148.24L127.89 152.94L124.49 148.24ZM130.81 145.36L134.21 150.06L130.81 154.76L127.41 150.06ZM133.73 147.07L137.13 151.77L133.73 156.47L130.33 151.77ZM136.66 148.67L140.06 153.37L136.66 158.07L133.26 153.37ZM139.58 150.16L142.98 154.86L139.58 159.56L136.18 154.86ZM142.50 151.55L145.90 156.25L142.50 160.95L139.10 156.25ZM145.42 152.83L148.82 157.53L145.42 162.23L142.02 157.53ZM148.34 154.00L151.74 158.70L148.34 163.40L144.94 158.70ZM151.27 155.08L154.67 159.78L151.27 164.48L147.87 159.78ZM154.19 156.05L157.59 160.75L154.19 165.45L150.79 160.75ZM157.11 156.91L160.51 161.61L157.11 166.31L153.71 161.61ZM160.03 157.68L163.43 162.38L160.03 167.08L156.63 162.38ZM162.96 158.34L166.36 163.04L162.96 167.74L159.56 163.04ZM165.88 158.90L169.28 163.60L165.88 168.30L162.48 163.60ZM168.80 159.37L172.20 164.07L168.80 168.77L165.40 164.07ZM171.72 159.74L175.12 164.44L171.72 169.14L168.32 164.44ZM174.64 160.00L178.04 164.70L174.64 169.40L171.24 164.70ZM177.57 160.18L180.97 164.88L177.57 169.58L174.17 164.88ZM180.49 160.25L183.89 164.95L180.49 169.65L177.09 164.95ZM183.41 160.23L186.81 164.93L183.41 169.63L180.01 164.93ZM186.33 160.12L189.73 164.82L186.33 169.52L182.93 164.82ZM189.26 159.91L192.66 164.61L189.26 169.31L185.86 164.61ZM192.18 159.60L195.58 164.30L192.18 169.00L188.78 164.30ZM195.10 159.20L198.50 163.90L195.10 168.60L191.70 163.90ZM198.02 158.69L201.42 163.39L198.02 168.09L194.62 163.39ZM200.94 158.09L204.34 162.79L200.94 167.49L197.54 162.79ZM203.87 157.38L207.27 162.08L203.87 166.78L200.47 162.08ZM206.79 156.57L210.19 161.27L206.79 165.97L203.39 161.27ZM209.71 155.66L213.11 160.36L209.71 165.06L206.31 160.36ZM212.63 154.64L216.03 159.34L212.63 164.04L209.23 159.34ZM215.56 153.52L218.96 158.22L215.56 162.92L212.16 158.22ZM218.48 152.29L221.88 156.99L218.48 161.69L215.08 156.99ZM221.40 150.95L224.80 155.65L221.40 160.35L218.00 155.65ZM224.32 149.51L227.72 154.21L224.32 158.91L220.92 154.21ZM227.24 147.95L230.64 152.65L227.24 157.35L223.84 152.65ZM230.17 146.29L233.57 150.99L230.17 155.69L226.77 150.99ZM233.09 144.51L236.49 149.21L233.09 153.91L229.69 149.21ZM236.01 142.62L239.41 147.32L236.01 152.02L232.61 147.32ZM238.93 140.61L242.33 145.31L238.93 150.01L235.53 145.31ZM241.86 138.50L245.26 143.20L241.86 147.90L238.46 143.20ZM244.78 136.26L248.18 140.96L244.78 145.66L241.38 140.96ZM247.70 133.91L251.10 138.61L247.70 143.31L244.30 138.61ZM250.62 131.44L254.02 136.14L250.62 140.84L247.22 136.14ZM253.54 128.85L256.94 133.55L253.54 138.25L250.14 133.55ZM256.47 126.14L259.87 130.84L256.47 135.54L253.07 130.84ZM259.39 123.32L262.79 128.02L259.39 132.72L255.99 128.02ZM262.31 120.36L265.71 125.06L262.31 129.76L258.91 125.06ZM265.23 117.29L268.63 121.99L265.23 126.69L261.83 121.99ZM268.16 114.09L271.56 118.79L268.16 123.49L264.76 118.79ZM271.08 110.77L274.48 115.47L271.08 120.17L267.68 115.47ZM274.00 107.32L277.40 112.02L274.00 116.72L270.60 112.02ZM276.92 103.74L280.32 108.44L276.92 113.14L273.52 108.44ZM279.84 100.04L283.24 104.74L279.84 109.44L276.44 104.74ZM282.77 96.21L286.17 100.91L282.77 105.61L279.37 100.91ZM285.69 92.24L289.09 96.94L285.69 101.64L282.29 96.94ZM288.61 88.15L292.01 92.85L288.61 97.55L285.21 92.85ZM291.53 83.92L294.93 88.62L291.53 93.32L288.13 88.62ZM294.46 79.56L297.86 84.26L294.46 88.96L291.06 84.26ZM297.38 75.06L300.78 79.76L297.38 84.46L293.98 79.76ZM300.30 70.43L303.70 75.13L300.30 79.83L296.90 75.13ZM303.22 65.67L306.62 70.37L303.22 75.07L299.82 70.37ZM306.14 60.76L309.54 65.46L306.14 70.16L302.74 65.46ZM309.07 55.72L312.47 60.42L309.07 65.12L305.67 60.42ZM311.99 50.54L315.39 55.24L311.99 59.94L308.59 55.24ZM314.91 45.21L318.31 49.91L314.91 54.61L311.51 49.91ZM317.83 39.75L321.23 44.45L317.83 49.15L314.43 44.45ZM320.76 34.14L324.16 38.84L320.76 43.54L317.36 38.84ZM323.68 28.39L327.08 33.09L323.68 37.79L320.28 33.09ZM326.60 22.49L330.00 27.19L326.60 31.89L323.20 27.19Z" stroke="#86f086" stroke-width="1.3" fill="none"/><path d="M37.30 23.81L40.22 29.63L43.14 35.30L46.07 40.83L48.99 46.20L51.91 51.43L54.83 56.51L57.76 61.45L60.68 66.24L63.60 70.90L66.52 75.41L69.44 79.79L72.37 84.02L75.29 88.13L78.21 92.09L81.13 95.93L84.06 99.63L86.98 103.21L89.90 106.65L92.82 109.97L95.74 113.16L98.67 116.23L101.59 119.18L104.51 122.00L107.43 124.70L110.36 127.29L113.28 129.75L116.20 132.10L119.12 134.34L122.04 136.46L124.97 138.47L127.89 140.37L130.81 142.17L133.73 143.85L136.66 145.43L139.58 146.90L142.50 148.27L145.42 149.53L148.34 150.70L151.27 151.77L154.19 152.74L157.11 153.61L160.03 154.39L162.96 155.07L165.88 155.66L168.80 156.16L171.72 156.57L174.64 156.90L177.57 157.13L180.49 157.28L183.41 157.35L186.33 157.33L189.26 157.23L192.18 157.04L195.10 156.76L198.02 156.38L200.94 155.92L203.87 155.36L206.79 154.70L209.71 153.94L212.63 153.08L215.56 152.12L218.48 151.05L221.40 149.88L224.32 148.60L227.24 147.21L230.17 145.70L233.09 144.09L236.01 142.35L238.93 140.50L241.86 138.53L244.78 136.44L247.70 134.22L250.62 131.88L253.54 129.41L256.47 126.81L259.39 124.08L262.31 121.22L265.23 118.22L268.16 115.09L271.08 111.82L274.00 108.41L276.92 104.86L279.84 101.18L282.77 97.36L285.69 93.41L288.61 89.32L291.53 85.10L294.46 80.75L297.38 76.27L300.30 71.65L303.22 66.91L306.14 62.04L309.07 57.05L311.99 51.93L314.91 46.68L317.83 41.31L320.76 35.81L323.68 30.20L326.60 24.46" stroke="#f08418" stroke-width="1" fill="none"/><path d="M33.60 23.81H41.00M37.30 20.11V27.51M36.52 29.63H43.92M40.22 25.93V33.33M39.44 35.30H46.84M43.14 31.60V39.00M42.37 40.83H49.77M46.07 37.13V44.53M45.29 46.20H52.69M48.99 42.50V49.90M48.21 51.43H55.61M51.91 47.73V55.13M51.13 56.51H58.53M54.83 52.81V60.21M54.06 61.45H61.46M57.76 57.75V65.15M56.98 66.24H64.38M60.68 62.54V69.94M59.90 70.90H67.30M63.60 67.20V74.60M62.82 75.41H70.22M66.52 71.71V79.11M65.74 79.79H73.14M69.44 76.09V83.49M68.67 84.02H76.07M72.37 80.32V87.72M71.59 88.13H78.99M75.29 84.43V91.83M74.51 92.09H81.91M78.21 88.39V95.79M77.43 95.93H84.83M81.13 92.23V99.63M80.36 99.63H87.76M84.06 95.93V103.33M83.28 103.21H90.68M86.98 99.51V106.91M86.20 106.65H93.60M89.90 102.95V110.35M89.12 109.97H96.52M92.82 106.27V113.67M92.04 113.16H99.44M95.74 109.46V116.86M94.97 116.23H102.37M98.67 112.53V119.93M97.89 119.18H105.29M101.59 115.48V122.88M100.81 122.00H108.21M104.51 118.30V125.70M103.73 124.70H111.13M107.43 121.00V128.40M106.66 127.29H114.06M110.36 123.59V130.99M109.58 129.75H116.98M113.28 126.05V133.45M112.50 132.10H119.90M116.20 128.40V135.80M115.42 134.34H122.82M119.12 130.64V138.04M118.34 136.46H125.74M122.04 132.76V140.16M121.27 138.47H128.67M124.97 134.77V142.17M124.19 140.37H131.59M127.89 136.67V144.07M127.11 142.17H134.51M130.81 138.47V145.87M130.03 143.85H137.43M133.73 140.15V147.55M132.96 145.43H140.36M136.66 141.73V149.13M135.88 146.90H143.28M139.58 143.20V150.60M138.80 148.27H146.20M142.50 144.57V151.97M141.72 149.53H149.12M145.42 145.83V153.23M144.64 150.70H152.04M148.34 147.00V154.40M147.57 151.77H154.97M151.27 148.07V155.47M150.49 152.74H157.89M154.19 149.04V156.44M153.41 153.61H160.81M157.11 149.91V157.31M156.33 154.39H163.73M160.03 150.69V158.09M159.26 155.07H166.66M162.96 151.37V158.77M162.18 155.66H169.58M165.88 151.96V159.36M165.10 156.16H172.50M168.80 152.46V159.86M168.02 156.57H175.42M171.72 152.87V160.27M170.94 156.90H178.34M174.64 153.20V160.60M173.87 157.13H181.27M177.57 153.43V160.83M176.79 157.28H184.19M180.49 153.58V160.98M179.71 157.35H187.11M183.41 153.65V161.05M182.63 157.33H190.03M186.33 153.63V161.03M185.56 157.23H192.96M189.26 153.53V160.93M188.48 157.04H195.88M192.18 153.34V160.74M191.40 156.76H198.80M195.10 153.06V160.46M194.32 156.38H201.72M198.02 152.68V160.08M197.24 155.92H204.64M200.94 152.22V159.62M200.17 155.36H207.57M203.87 151.66V159.06M203.09 154.70H210.49M206.79 151.00V158.40M206.01 153.94H213.41M209.71 150.24V157.64M208.93 153.08H216.33M212.63 149.38V156.78M211.86 152.12H219.26M215.56 148.42V155.82M214.78 151.05H222.18M218.48 147.35V154.75M217.70 149.88H225.10M221.40 146.18V153.58M220.62 148.60H228.02M224.32 144.90V152.30M223.54 147.21H230.94M227.24 143.51V150.91M226.47 145.70H233.87M230.17 142.00V149.40M229.39 144.09H236.79M233.09 140.39V147.79M232.31 142.35H239.71M236.01 138.65V146.05M235.23 140.50H242.63M238.93 136.80V144.20M238.16 138.53H245.56M241.86 134.83V142.23M241.08 136.44H248.48M244.78 132.74V140.14M244.00 134.22H251.40M247.70 130.52V137.92M246.92 131.88H254.32M250.62 128.18V135.58M249.84 129.41H257.24M253.54 125.71V133.11M252.77 126.81H260.17M256.47 123.11V130.51M255.69 124.08H263.09M259.39 120.38V127.78M258.61 121.22H266.01M262.31 117.52V124.92M261.53 118.22H268.93M265.23 114.52V121.92M264.46 115.09H271.86M268.16 111.39V118.79M267.38 111.82H274.78M271.08 108.12V115.52M270.30 108.41H277.70M274.00 104.71V112.11M273.22 104.86H280.62M276.92 101.16V108.56M276.14 101.18H283.54M279.84 97.48V104.88M279.07 97.36H286.47M282.77 93.66V101.06M281.99 93.41H289.39M285.69 89.71V97.11M284.91 89.32H292.31M288.61 85.62V93.02M287.83 85.10H295.23M291.53 81.40V88.80M290.76 80.75H298.16M294.46 77.05V84.45M293.68 76.27H301.08M297.38 72.57V79.97M296.60 71.65H304.00M300.30 67.95V75.35M299.52 66.91H306.92M303.22 63.21V70.61M302.44 62.04H309.84M306.14 58.34V65.74M305.37 57.05H312.77M309.07 53.35V60.75M308.29 51.93H315.69M311.99 48.23V55.63M311.21 46.68H318.61M314.91 42.98V50.38M314.13 41.31H321.53M317.83 37.61V45.01M317.06 35.81H324.46M320.76 32.11V39.51M319.98 30.20H327.38M323.68 26.50V33.90M322.90 24.46H330.30M326.60 20.76V28.16" stroke="#f08418" stroke-width="1.3" fill="none"/></g>
<g clip-path="url(#cr)"><path d="M391.50 32.55L394.36 36.72L397.22 40.78L400.08 44.71L402.95 48.53L405.81 52.23L408.67 55.81L411.53 59.28L414.39 62.64L417.25 65.89L420.12 69.03L422.98 72.06L425.84 74.99L428.70 77.81L431.56 80.52L434.42 83.13L437.29 85.65L440.15 88.06L443.01 90.37L445.87 92.59L448.73 94.71L451.59 96.74L454.46 98.68L457.32 100.52L460.18 102.28L463.04 103.95L465.90 105.53L468.76 107.02L471.63 108.44L474.49 109.76L477.35 111.01L480.21 112.18L483.07 113.27L485.93 114.28L488.79 115.22L491.66 116.08L494.52 116.88L497.38 117.60L500.24 118.25L503.10 118.83L505.96 119.34L508.83 119.79L511.69 120.18L514.55 120.50L517.41 120.76L520.27 120.96L523.13 121.10L526.00 121.19L528.86 121.22L531.72 121.20L534.58 121.12L537.44 120.99L540.30 120.80L543.17 120.56L546.03 120.25L548.89 119.89L551.75 119.45L554.61 118.95L557.47 118.38L560.34 117.74L563.20 117.02L566.06 116.22L568.92 115.35L571.78 114.39L574.64 113.35L577.51 112.22L580.37 111.00L583.23 109.69L586.09 108.28L588.95 106.78L591.81 105.18L594.67 103.47L597.54 101.67L600.40 99.75L603.26 97.73L606.12 95.61L608.98 93.38L611.84 91.06L614.71 88.64L617.57 86.13L620.43 83.53L623.29 80.84L626.15 78.07L629.01 75.23L631.88 72.30L634.74 69.30L637.60 66.23L640.46 63.10L643.32 59.89L646.18 56.63L649.05 53.31L651.91 49.93L654.77 46.50L657.63 43.03L660.49 39.50L663.35 35.93L666.22 32.33L669.08 28.68L671.94 25.00L674.80 21.29" stroke="#0000f0" stroke-width="1" fill="none"/><path d="M387.80 32.55a3.7 3.7 0 1 0 7.4 0a3.7 3.7 0 1 0 -7.4 0M390.66 36.72a3.7 3.7 0 1 0 7.4 0a3.7 3.7 0 1 0 -7.4 0M393.52 40.78a3.7 3.7 0 1 0 7.4 0a3.7 3.7 0 1 0 -7.4 0M396.38 44.71a3.7 3.7 0 1 0 7.4 0a3.7 3.7 0 1 0 -7.4 0M399.25 48.53a3.7 3.7 0 1 0 7.4 0a3.7 3.7 0 1 0 -7.4 0M402.11 52.23a3.7 3.7 0 1 0 7.4 0a3.7 3.7 0 1 0 -7.4 0M404.97 55.81a3.7 3.7 0 1 0 7.4 0a3.7 3.7 0 1 0 -7.4 0M407.83 59.28a3.7 3.7 0 1 0 7.4 0a3.7 3.7 0 1 0 -7.4 0M410.69 62.64a3.7 3.7 0 1 0 7.4 0a3.7 3.7 0 1 0 -7.4 0M413.55 65.89a3.7 3.7 0 1 0 7.4 0a3.7 3.7 0 1 0 -7.4 0M416.42 69.03a3.7 3.7 0 1 0 7.4 0a3.7 3.7 0 1 0 -7.4 0M419.28 72.06a3.7 3.7 0 1 0 7.4 0a3.7 3.7 0 1 0 -7.4 0M422.14 74.99a3.7 3.7 0 1 0 7.4 0a3.7 3.7 0 1 0 -7.4 0M425.00 77.81a3.7 3.7 0 1 0 7.4 0a3.7 3.7 0 1 0 -7.4 0M427.86 80.52a3.7 3.7 0 1 0 7.4 0a3.7 3.7 0 1 0 -7.4 0M430.72 83.13a3.7 3.7 0 1 0 7.4 0a3.7 3.7 0 1 0 -7.4 0M433.59 85.65a3.7 3.7 0 1 0 7.4 0a3.7 3.7 0 1 0 -7.4 0M436.45 88.06a3.7 3.7 0 1 0 7.4 0a3.7 3.7 0 1 0 -7.4 0M439.31 90.37a3.7 3.7 0 1 0 7.4 0a3.7 3.7 0 1 0 -7.4 0M442.17 92.59a3.7 3.7 0 1 0 7.4 0a3.7 3.7 0 1 0 -7.4 0M445.03 94.71a3.7 3.7 0 1 0 7.4 0a3.7 3.7 0 1 0 -7.4 0M447.89 96.74a3.7 3.7 0 1 0 7.4 0a3.7 3.7 0 1 0 -7.4 0M450.76 98.68a3.7 3.7 0 1 0 7.4 0a3.7 3.7 0 1 0 -7.4 0M453.62 100.52a3.7 3.7 0 1 0 7.4 0a3.7 3.7 0 1 0 -7.4 0M456.48 102.28a3.7 3.7 0 1 0 7.4 0a3.7 3.7 0 1 0 -7.4 0M459.34 103.95a3.7 3.7 0 1 0 7.4 0a3.7 3.7 0 1 0 -7.4 0M462.20 105.53a3.7 3.7 0 1 0 7.4 0a3.7 3.7 0 1 0 -7.4 0M465.06 107.02a3.7 3.7 0 1 0 7.4 0a3.7 3.7 0 1 0 -7.4 0M467.93 108.44a3.7 3.7 0 1 0 7.4 0a3.7 3.7 0 1 0 -7.4 0M470.79 109.76a3.7 3.7 0 1 0 7.4 0a3.7 3.7 0 1 0 -7.4 0M473.65 111.01a3.7 3.7 0 1 0 7.4 0a3.7 3.7 0 1 0 -7.4 0M476.51 112.18a3.7 3.7 0 1 0 7.4 0a3.7 3.7 0 1 0 -7.4 0M479.37 113.27a3.7 3.7 0 1 0 7.4 0a3.7 3.7 0 1 0 -7.4 0M482.23 114.28a3.7 3.7 0 1 0 7.4 0a3.7 3.7 0 1 0 -7.4 0M485.09 115.22a3.7 3.7 0 1 0 7.4 0a3.7 3.7 0 1 0 -7.4 0M487.96 116.08a3.7 3.7 0 1 0 7.4 0a3.7 3.7 0 1 0 -7.4 0M490.82 116.88a3.7 3.7 0 1 0 7.4 0a3.7 3.7 0 1 0 -7.4 0M493.68 117.60a3.7 3.7 0 1 0 7.4 0a3.7 3.7 0 1 0 -7.4 0M496.54 118.25a3.7 3.7 0 1 0 7.4 0a3.7 3.7 0 1 0 -7.4 0M499.40 118.83a3.7 3.7 0 1 0 7.4 0a3.7 3.7 0 1 0 -7.4 0M502.26 119.34a3.7 3.7 0 1 0 7.4 0a3.7 3.7 0 1 0 -7.4 0M505.13 119.79a3.7 3.7 0 1 0 7.4 0a3.7 3.7 0 1 0 -7.4 0M507.99 120.18a3.7 3.7 0 1 0 7.4 0a3.7 3.7 0 1 0 -7.4 0M510.85 120.50a3.7 3.7 0 1 0 7.4 0a3.7 3.7 0 1 0 -7.4 0M513.71 120.76a3.7 3.7 0 1 0 7.4 0a3.7 3.7 0 1 0 -7.4 0M516.57 120.96a3.7 3.7 0 1 0 7.4 0a3.7 3.7 0 1 0 -7.4 0M519.43 121.10a3.7 3.7 0 1 0 7.4 0a3.7 3.7 0 1 0 -7.4 0M522.30 121.19a3.7 3.7 0 1 0 7.4 0a3.7 3.7 0 1 0 -7.4 0M525.16 121.22a3.7 3.7 0 1 0 7.4 0a3.7 3.7 0 1 0 -7.4 0M528.02 121.20a3.7 3.7 0 1 0 7.4 0a3.7 3.7 0 1 0 -7.4 0M530.88 121.12a3.7 3.7 0 1 0 7.4 0a3.7 3.7 0 1 0 -7.4 0M533.74 120.99a3.7 3.7 0 1 0 7.4 0a3.7 3.7 0 1 0 -7.4 0M536.60 120.80a3.7 3.7 0 1 0 7.4 0a3.7 3.7 0 1 0 -7.4 0M539.47 120.56a3.7 3.7 0 1 0 7.4 0a3.7 3.7 0 1 0 -7.4 0M542.33 120.25a3.7 3.7 0 1 0 7.4 0a3.7 3.7 0 1 0 -7.4 0M545.19 119.89a3.7 3.7 0 1 0 7.4 0a3.7 3.7 0 1 0 -7.4 0M548.05 119.45a3.7 3.7 0 1 0 7.4 0a3.7 3.7 0 1 0 -7.4 0M550.91 118.95a3.7 3.7 0 1 0 7.4 0a3.7 3.7 0 1 0 -7.4 0M553.77 118.38a3.7 3.7 0 1 0 7.4 0a3.7 3.7 0 1 0 -7.4 0M556.64 117.74a3.7 3.7 0 1 0 7.4 0a3.7 3.7 0 1 0 -7.4 0M559.50 117.02a3.7 3.7 0 1 0 7.4 0a3.7 3.7 0 1 0 -7.4 0M562.36 116.22a3.7 3.7 0 1 0 7.4 0a3.7 3.7 0 1 0 -7.4 0M565.22 115.35a3.7 3.7 0 1 0 7.4 0a3.7 3.7 0 1 0 -7.4 0M568.08 114.39a3.7 3.7 0 1 0 7.4 0a3.7 3.7 0 1 0 -7.4 0M570.94 113.35a3.7 3.7 0 1 0 7.4 0a3.7 3.7 0 1 0 -7.4 0M573.81 112.22a3.7 3.7 0 1 0 7.4 0a3.7 3.7 0 1 0 -7.4 0M576.67 111.00a3.7 3.7 0 1 0 7.4 0a3.7 3.7 0 1 0 -7.4 0M579.53 109.69a3.7 3.7 0 1 0 7.4 0a3.7 3.7 0 1 0 -7.4 0M582.39 108.28a3.7 3.7 0 1 0 7.4 0a3.7 3.7 0 1 0 -7.4 0M585.25 106.78a3.7 3.7 0 1 0 7.4 0a3.7 3.7 0 1 0 -7.4 0M588.11 105.18a3.7 3.7 0 1 0 7.4 0a3.7 3.7 0 1 0 -7.4 0M590.97 103.47a3.7 3.7 0 1 0 7.4 0a3.7 3.7 0 1 0 -7.4 0M593.84 101.67a3.7 3.7 0 1 0 7.4 0a3.7 3.7 0 1 0 -7.4 0M596.70 99.75a3.7 3.7 0 1 0 7.4 0a3.7 3.7 0 1 0 -7.4 0M599.56 97.73a3.7 3.7 0 1 0 7.4 0a3.7 3.7 0 1 0 -7.4 0M602.42 95.61a3.7 3.7 0 1 0 7.4 0a3.7 3.7 0 1 0 -7.4 0M605.28 93.38a3.7 3.7 0 1 0 7.4 0a3.7 3.7 0 1 0 -7.4 0M608.14 91.06a3.7 3.7 0 1 0 7.4 0a3.7 3.7 0 1 0 -7.4 0M611.01 88.64a3.7 3.7 0 1 0 7.4 0a3.7 3.7 0 1 0 -7.4 0M613.87 86.13a3.7 3.7 0 1 0 7.4 0a3.7 3.7 0 1 0 -7.4 0M616.73 83.53a3.7 3.7 0 1 0 7.4 0a3.7 3.7 0 1 0 -7.4 0M619.59 80.84a3.7 3.7 0 1 0 7.4 0a3.7 3.7 0 1 0 -7.4 0M622.45 78.07a3.7 3.7 0 1 0 7.4 0a3.7 3.7 0 1 0 -7.4 0M625.31 75.23a3.7 3.7 0 1 0 7.4 0a3.7 3.7 0 1 0 -7.4 0M628.18 72.30a3.7 3.7 0 1 0 7.4 0a3.7 3.7 0 1 0 -7.4 0M631.04 69.30a3.7 3.7 0 1 0 7.4 0a3.7 3.7 0 1 0 -7.4 0M633.90 66.23a3.7 3.7 0 1 0 7.4 0a3.7 3.7 0 1 0 -7.4 0M636.76 63.10a3.7 3.7 0 1 0 7.4 0a3.7 3.7 0 1 0 -7.4 0M639.62 59.89a3.7 3.7 0 1 0 7.4 0a3.7 3.7 0 1 0 -7.4 0M642.48 56.63a3.7 3.7 0 1 0 7.4 0a3.7 3.7 0 1 0 -7.4 0M645.35 53.31a3.7 3.7 0 1 0 7.4 0a3.7 3.7 0 1 0 -7.4 0M648.21 49.93a3.7 3.7 0 1 0 7.4 0a3.7 3.7 0 1 0 -7.4 0M651.07 46.50a3.7 3.7 0 1 0 7.4 0a3.7 3.7 0 1 0 -7.4 0M653.93 43.03a3.7 3.7 0 1 0 7.4 0a3.7 3.7 0 1 0 -7.4 0M656.79 39.50a3.7 3.7 0 1 0 7.4 0a3.7 3.7 0 1 0 -7.4 0M659.65 35.93a3.7 3.7 0 1 0 7.4 0a3.7 3.7 0 1 0 -7.4 0M662.52 32.33a3.7 3.7 0 1 0 7.4 0a3.7 3.7 0 1 0 -7.4 0M665.38 28.68a3.7 3.7 0 1 0 7.4 0a3.7 3.7 0 1 0 -7.4 0M668.24 25.00a3.7 3.7 0 1 0 7.4 0a3.7 3.7 0 1 0 -7.4 0M671.10 21.29a3.7 3.7 0 1 0 7.4 0a3.7 3.7 0 1 0 -7.4 0" stroke="#0000f0" stroke-width="1.3" fill="none"/><path d="M391.50 64.70L394.36 67.86L397.22 70.94L400.08 73.95L402.95 76.87L405.81 79.71L408.67 82.47L411.53 85.15L414.39 87.76L417.25 90.29L420.12 92.74L422.98 95.11L425.84 97.41L428.70 99.64L431.56 101.78L434.42 103.86L437.29 105.86L440.15 107.78L443.01 109.64L445.87 111.42L448.73 113.13L451.59 114.77L454.46 116.33L457.32 117.83L460.18 119.26L463.04 120.61L465.90 121.90L468.76 123.12L471.63 124.27L474.49 125.36L477.35 126.38L480.21 127.33L483.07 128.22L485.93 129.04L488.79 129.79L491.66 130.48L494.52 131.11L497.38 131.67L500.24 132.18L503.10 132.62L505.96 132.99L508.83 133.31L511.69 133.56L514.55 133.76L517.41 133.89L520.27 133.96L523.13 133.97L526.00 133.92L528.86 133.80L531.72 133.62L534.58 133.37L537.44 133.06L540.30 132.67L543.17 132.23L546.03 131.71L548.89 131.12L551.75 130.47L554.61 129.74L557.47 128.95L560.34 128.08L563.20 127.14L566.06 126.13L568.92 125.04L571.78 123.88L574.64 122.64L577.51 121.33L580.37 119.94L583.23 118.48L586.09 116.93L588.95 115.31L591.81 113.61L594.67 111.83L597.54 109.97L600.40 108.02L603.26 106.00L606.12 103.89L608.98 101.70L611.84 99.42L614.71 97.06L617.57 94.62L620.43 92.08L623.29 89.46L626.15 86.76L629.01 83.96L631.88 81.08L634.74 78.10L637.60 75.04L640.46 71.88L643.32 68.63L646.18 65.29L649.05 61.86L651.91 58.33L654.77 54.71L657.63 50.99L660.49 47.18L663.35 43.27L666.22 39.26L669.08 35.16L671.94 30.95L674.80 26.65" stroke="#0a80f0" stroke-width="1" fill="none"/><path d="M389.00 62.20L394.00 67.20M389.00 67.20L394.00 62.20M391.86 65.36L396.86 70.36M391.86 70.36L396.86 65.36M394.72 68.44L399.72 73.44M394.72 73.44L399.72 68.44M397.58 71.45L402.58 76.45M397.58 76.45L402.58 71.45M400.45 74.37L405.45 79.37M400.45 79.37L405.45 74.37M403.31 77.21L408.31 82.21M403.31 82.21L408.31 77.21M406.17 79.97L411.17 84.97M406.17 84.97L411.17 79.97M409.03 82.65L414.03 87.65M409.03 87.65L414.03 82.65M411.89 85.26L416.89 90.26M411.89 90.26L416.89 85.26M414.75 87.79L419.75 92.79M414.75 92.79L419.75 87.79M417.62 90.24L422.62 95.24M417.62 95.24L422.62 90.24M420.48 92.61L425.48 97.61M420.48 97.61L425.48 92.61M423.34 94.91L428.34 99.91M423.34 99.91L428.34 94.91M426.20 97.14L431.20 102.14M426.20 102.14L431.20 97.14M429.06 99.28L434.06 104.28M429.06 104.28L434.06 99.28M431.92 101.36L436.92 106.36M431.92 106.36L436.92 101.36M434.79 103.36L439.79 108.36M434.79 108.36L439.79 103.36M437.65 105.28L442.65 110.28M437.65 110.28L442.65 105.28M440.51 107.14L445.51 112.14M440.51 112.14L445.51 107.14M443.37 108.92L448.37 113.92M443.37 113.92L448.37 108.92M446.23 110.63L451.23 115.63M446.23 115.63L451.23 110.63M449.09 112.27L454.09 117.27M449.09 117.27L454.09 112.27M451.96 113.83L456.96 118.83M451.96 118.83L456.96 113.83M454.82 115.33L459.82 120.33M454.82 120.33L459.82 115.33M457.68 116.76L462.68 121.76M457.68 121.76L462.68 116.76M460.54 118.11L465.54 123.11M460.54 123.11L465.54 118.11M463.40 119.40L468.40 124.40M463.40 124.40L468.40 119.40M466.26 120.62L471.26 125.62M466.26 125.62L471.26 120.62M469.13 121.77L474.13 126.77M469.13 126.77L474.13 121.77M471.99 122.86L476.99 127.86M471.99 127.86L476.99 122.86M474.85 123.88L479.85 128.88M474.85 128.88L479.85 123.88M477.71 124.83L482.71 129.83M477.71 129.83L482.71 124.83M480.57 125.72L485.57 130.72M480.57 130.72L485.57 125.72M483.43 126.54L488.43 131.54M483.43 131.54L488.43 126.54M486.29 127.29L491.29 132.29M486.29 132.29L491.29 127.29M489.16 127.98L494.16 132.98M489.16 132.98L494.16 127.98M492.02 128.61L497.02 133.61M492.02 133.61L497.02 128.61M494.88 129.17L499.88 134.17M494.88 134.17L499.88 129.17M497.74 129.68L502.74 134.68M497.74 134.68L502.74 129.68M500.60 130.12L505.60 135.12M500.60 135.12L505.60 130.12M503.46 130.49L508.46 135.49M503.46 135.49L508.46 130.49M506.33 130.81L511.33 135.81M506.33 135.81L511.33 130.81M509.19 131.06L514.19 136.06M509.19 136.06L514.19 131.06M512.05 131.26L517.05 136.26M512.05 136.26L517.05 131.26M514.91 131.39L519.91 136.39M514.91 136.39L519.91 131.39M517.77 131.46L522.77 136.46M517.77 136.46L522.77 131.46M520.63 131.47L525.63 136.47M520.63 136.47L525.63 131.47M523.50 131.42L528.50 136.42M523.50 136.42L528.50 131.42M526.36 131.30L531.36 136.30M526.36 136.30L531.36 131.30M529.22 131.12L534.22 136.12M529.22 136.12L534.22 131.12M532.08 130.87L537.08 135.87M532.08 135.87L537.08 130.87M534.94 130.56L539.94 135.56M534.94 135.56L539.94 130.56M537.80 130.17L542.80 135.17M537.80 135.17L542.80 130.17M540.67 129.73L545.67 134.73M540.67 134.73L545.67 129.73M543.53 129.21L548.53 134.21M543.53 134.21L548.53 129.21M546.39 128.62L551.39 133.62M546.39 133.62L551.39 128.62M549.25 127.97L554.25 132.97M549.25 132.97L554.25 127.97M552.11 127.24L557.11 132.24M552.11 132.24L557.11 127.24M554.97 126.45L559.97 131.45M554.97 131.45L559.97 126.45M557.84 125.58L562.84 130.58M557.84 130.58L562.84 125.58M560.70 124.64L565.70 129.64M560.70 129.64L565.70 124.64M563.56 123.63L568.56 128.63M563.56 128.63L568.56 123.63M566.42 122.54L571.42 127.54M566.42 127.54L571.42 122.54M569.28 121.38L574.28 126.38M569.28 126.38L574.28 121.38M572.14 120.14L577.14 125.14M572.14 125.14L577.14 120.14M575.01 118.83L580.01 123.83M575.01 123.83L580.01 118.83M577.87 117.44L582.87 122.44M577.87 122.44L582.87 117.44M580.73 115.98L585.73 120.98M580.73 120.98L585.73 115.98M583.59 114.43L588.59 119.43M583.59 119.43L588.59 114.43M586.45 112.81L591.45 117.81M586.45 117.81L591.45 112.81M589.31 111.11L594.31 116.11M589.31 116.11L594.31 111.11M592.17 109.33L597.17 114.33M592.17 114.33L597.17 109.33M595.04 107.47L600.04 112.47M595.04 112.47L600.04 107.47M597.90 105.52L602.90 110.52M597.90 110.52L602.90 105.52M600.76 103.50L605.76 108.50M600.76 108.50L605.76 103.50M603.62 101.39L608.62 106.39M603.62 106.39L608.62 101.39M606.48 99.20L611.48 104.20M606.48 104.20L611.48 99.20M609.34 96.92L614.34 101.92M609.34 101.92L614.34 96.92M612.21 94.56L617.21 99.56M612.21 99.56L617.21 94.56M615.07 92.12L620.07 97.12M615.07 97.12L620.07 92.12M617.93 89.58L622.93 94.58M617.93 94.58L622.93 89.58M620.79 86.96L625.79 91.96M620.79 91.96L625.79 86.96M623.65 84.26L628.65 89.26M623.65 89.26L628.65 84.26M626.51 81.46L631.51 86.46M626.51 86.46L631.51 81.46M629.38 78.58L634.38 83.58M629.38 83.58L634.38 78.58M632.24 75.60L637.24 80.60M632.24 80.60L637.24 75.60M635.10 72.54L640.10 77.54M635.10 77.54L640.10 72.54M637.96 69.38L642.96 74.38M637.96 74.38L642.96 69.38M640.82 66.13L645.82 71.13M640.82 71.13L645.82 66.13M643.68 62.79L648.68 67.79M643.68 67.79L648.68 62.79M646.55 59.36L651.55 64.36M646.55 64.36L651.55 59.36M649.41 55.83L654.41 60.83M649.41 60.83L654.41 55.83M652.27 52.21L657.27 57.21M652.27 57.21L657.27 52.21M655.13 48.49L660.13 53.49M655.13 53.49L660.13 48.49M657.99 44.68L662.99 49.68M657.99 49.68L662.99 44.68M660.85 40.77L665.85 45.77M660.85 45.77L665.85 40.77M663.72 36.76L668.72 41.76M663.72 41.76L668.72 36.76M666.58 32.66L671.58 37.66M666.58 37.66L671.58 32.66M669.44 28.45L674.44 33.45M669.44 33.45L674.44 28.45M672.30 24.15L677.30 29.15M672.30 29.15L677.30 24.15" stroke="#0a80f0" stroke-width="1.5" fill="none"/><path d="M391.50 115.68L394.36 117.51L397.22 119.30L400.08 121.05L402.95 122.75L405.81 124.40L408.67 126.01L411.53 127.57L414.39 129.08L417.25 130.55L420.12 131.97L422.98 133.34L425.84 134.67L428.70 135.95L431.56 137.18L434.42 138.36L437.29 139.50L440.15 140.58L443.01 141.62L445.87 142.61L448.73 143.55L451.59 144.44L454.46 145.28L457.32 146.07L460.18 146.81L463.04 147.50L465.90 148.14L468.76 148.73L471.63 149.27L474.49 149.76L477.35 150.20L480.21 150.58L483.07 150.92L485.93 151.20L488.79 151.43L491.66 151.61L494.52 151.73L497.38 151.80L500.24 151.82L503.10 151.79L505.96 151.71L508.83 151.57L511.69 151.37L514.55 151.12L517.41 150.82L520.27 150.46L523.13 150.05L526.00 149.58L528.86 149.05L531.72 148.47L534.58 147.82L537.44 147.12L540.30 146.36L543.17 145.53L546.03 144.65L548.89 143.70L551.75 142.69L554.61 141.62L557.47 140.49L560.34 139.29L563.20 138.02L566.06 136.69L568.92 135.29L571.78 133.83L574.64 132.30L577.51 130.70L580.37 129.03L583.23 127.29L586.09 125.49L588.95 123.61L591.81 121.66L594.67 119.64L597.54 117.54L600.40 115.37L603.26 113.13L606.12 110.81L608.98 108.42L611.84 105.95L614.71 103.41L617.57 100.79L620.43 98.09L623.29 95.31L626.15 92.45L629.01 89.51L631.88 86.50L634.74 83.40L637.60 80.22L640.46 76.95L643.32 73.61L646.18 70.18L649.05 66.66L651.91 63.06L654.77 59.38L657.63 55.61L660.49 51.75L663.35 47.80L666.22 43.77L669.08 39.65L671.94 35.43L674.80 31.13" stroke="#00e8f0" stroke-width="1" fill="none"/><path d="M388.90 111.28L396.20 115.68L388.90 120.08ZM391.76 113.11L399.06 117.51L391.76 121.91ZM394.62 114.90L401.92 119.30L394.62 123.70ZM397.48 116.65L404.78 121.05L397.48 125.45ZM400.35 118.35L407.65 122.75L400.35 127.15ZM403.21 120.00L410.51 124.40L403.21 128.80ZM406.07 121.61L413.37 126.01L406.07 130.41ZM408.93 123.17L416.23 127.57L408.93 131.97ZM411.79 124.68L419.09 129.08L411.79 133.48ZM414.65 126.15L421.95 130.55L414.65 134.95ZM417.52 127.57L424.82 131.97L417.52 136.37ZM420.38 128.94L427.68 133.34L420.38 137.74ZM423.24 130.27L430.54 134.67L423.24 139.07ZM426.10 131.55L433.40 135.95L426.10 140.35ZM428.96 132.78L436.26 137.18L428.96 141.58ZM431.82 133.96L439.12 138.36L431.82 142.76ZM434.69 135.10L441.99 139.50L434.69 143.90ZM437.55 136.18L444.85 140.58L437.55 144.98ZM440.41 137.22L447.71 141.62L440.41 146.02ZM443.27 138.21L450.57 142.61L443.27 147.01ZM446.13 139.15L453.43 143.55L446.13 147.95ZM448.99 140.04L456.29 144.44L448.99 148.84ZM451.86 140.88L459.16 145.28L451.86 149.68ZM454.72 141.67L462.02 146.07L454.72 150.47ZM457.58 142.41L464.88 146.81L457.58 151.21ZM460.44 143.10L467.74 147.50L460.44 151.90ZM463.30 143.74L470.60 148.14L463.30 152.54ZM466.16 144.33L473.46 148.73L466.16 153.13ZM469.03 144.87L476.33 149.27L469.03 153.67ZM471.89 145.36L479.19 149.76L471.89 154.16ZM474.75 145.80L482.05 150.20L474.75 154.60ZM477.61 146.18L484.91 150.58L477.61 154.98ZM480.47 146.52L487.77 150.92L480.47 155.32ZM483.33 146.80L490.63 151.20L483.33 155.60ZM486.19 147.03L493.49 151.43L486.19 155.83ZM489.06 147.21L496.36 151.61L489.06 156.01ZM491.92 147.33L499.22 151.73L491.92 156.13ZM494.78 147.40L502.08 151.80L494.78 156.20ZM497.64 147.42L504.94 151.82L497.64 156.22ZM500.50 147.39L507.80 151.79L500.50 156.19ZM503.36 147.31L510.66 151.71L503.36 156.11ZM506.23 147.17L513.53 151.57L506.23 155.97ZM509.09 146.97L516.39 151.37L509.09 155.77ZM511.95 146.72L519.25 151.12L511.95 155.52ZM514.81 146.42L522.11 150.82L514.81 155.22ZM517.67 146.06L524.97 150.46L517.67 154.86ZM520.53 145.65L527.83 150.05L520.53 154.45ZM523.40 145.18L530.70 149.58L523.40 153.98ZM526.26 144.65L533.56 149.05L526.26 153.45ZM529.12 144.07L536.42 148.47L529.12 152.87ZM531.98 143.42L539.28 147.82L531.98 152.22ZM534.84 142.72L542.14 147.12L534.84 151.52ZM537.70 141.96L545.00 146.36L537.70 150.76ZM540.57 141.13L547.87 145.53L540.57 149.93ZM543.43 140.25L550.73 144.65L543.43 149.05ZM546.29 139.30L553.59 143.70L546.29 148.10ZM549.15 138.29L556.45 142.69L549.15 147.09ZM552.01 137.22L559.31 141.62L552.01 146.02ZM554.87 136.09L562.17 140.49L554.87 144.89ZM557.74 134.89L565.04 139.29L557.74 143.69ZM560.60 133.62L567.90 138.02L560.60 142.42ZM563.46 132.29L570.76 136.69L563.46 141.09ZM566.32 130.89L573.62 135.29L566.32 139.69ZM569.18 129.43L576.48 133.83L569.18 138.23ZM572.04 127.90L579.34 132.30L572.04 136.70ZM574.91 126.30L582.21 130.70L574.91 135.10ZM577.77 124.63L585.07 129.03L577.77 133.43ZM580.63 122.89L587.93 127.29L580.63 131.69ZM583.49 121.09L590.79 125.49L583.49 129.89ZM586.35 119.21L593.65 123.61L586.35 128.01ZM589.21 117.26L596.51 121.66L589.21 126.06ZM592.07 115.24L599.37 119.64L592.07 124.04ZM594.94 113.14L602.24 117.54L594.94 121.94ZM597.80 110.97L605.10 115.37L597.80 119.77ZM600.66 108.73L607.96 113.13L600.66 117.53ZM603.52 106.41L610.82 110.81L603.52 115.21ZM606.38 104.02L613.68 108.42L606.38 112.82ZM609.24 101.55L616.54 105.95L609.24 110.35ZM612.11 99.01L619.41 103.41L612.11 107.81ZM614.97 96.39L622.27 100.79L614.97 105.19ZM617.83 93.69L625.13 98.09L617.83 102.49ZM620.69 90.91L627.99 95.31L620.69 99.71ZM623.55 88.05L630.85 92.45L623.55 96.85ZM626.41 85.11L633.71 89.51L626.41 93.91ZM629.28 82.10L636.58 86.50L629.28 90.90ZM632.14 79.00L639.44 83.40L632.14 87.80ZM635.00 75.82L642.30 80.22L635.00 84.62ZM637.86 72.55L645.16 76.95L637.86 81.35ZM640.72 69.21L648.02 73.61L640.72 78.01ZM643.58 65.78L650.88 70.18L643.58 74.58ZM646.45 62.26L653.75 66.66L646.45 71.06ZM649.31 58.66L656.61 63.06L649.31 67.46ZM652.17 54.98L659.47 59.38L652.17 63.78ZM655.03 51.21L662.33 55.61L655.03 60.01ZM657.89 47.35L665.19 51.75L657.89 56.15ZM660.75 43.40L668.05 47.80L660.75 52.20ZM663.62 39.37L670.92 43.77L663.62 48.17ZM666.48 35.25L673.78 39.65L666.48 44.05ZM669.34 31.03L676.64 35.43L669.34 39.83ZM672.20 26.73L679.50 31.13L672.20 35.53Z" stroke="#00e8f0" stroke-width="1.3" fill="none"/><path d="M391.50 176.16L394.36 176.57L397.22 176.97L400.08 177.36L402.95 177.74L405.81 178.10L408.67 178.44L411.53 178.78L414.39 179.09L417.25 179.39L420.12 179.68L422.98 179.94L425.84 180.19L428.70 180.42L431.56 180.62L434.42 180.80L437.29 180.97L440.15 181.11L443.01 181.22L445.87 181.31L448.73 181.38L451.59 181.41L454.46 181.43L457.32 181.41L460.18 181.36L463.04 181.29L465.90 181.19L468.76 181.05L471.63 180.88L474.49 180.68L477.35 180.45L480.21 180.18L483.07 179.87L485.93 179.53L488.79 179.16L491.66 178.74L494.52 178.29L497.38 177.80L500.24 177.26L503.10 176.69L505.96 176.07L508.83 175.42L511.69 174.72L514.55 173.97L517.41 173.18L520.27 172.35L523.13 171.46L526.00 170.53L528.86 169.56L531.72 168.53L534.58 167.45L537.44 166.32L540.30 165.15L543.17 163.91L546.03 162.63L548.89 161.29L551.75 159.90L554.61 158.45L557.47 156.95L560.34 155.38L563.20 153.76L566.06 152.09L568.92 150.35L571.78 148.55L574.64 146.69L577.51 144.77L580.37 142.78L583.23 140.73L586.09 138.62L588.95 136.44L591.81 134.20L594.67 131.89L597.54 129.51L600.40 127.06L603.26 124.55L606.12 121.96L608.98 119.30L611.84 116.57L614.71 113.77L617.57 110.90L620.43 107.95L623.29 104.92L626.15 101.82L629.01 98.65L631.88 95.39L634.74 92.06L637.60 88.65L640.46 85.16L643.32 81.59L646.18 77.93L649.05 74.20L651.91 70.38L654.77 66.47L657.63 62.49L660.49 58.41L663.35 54.25L666.22 50.01L669.08 45.67L671.94 41.25L674.80 36.74" stroke="#80f080" stroke-width="1" fill="none"/><path d="M388.80 173.46h5.40v5.40h-5.40ZM391.66 173.87h5.40v5.40h-5.40ZM394.52 174.27h5.40v5.40h-5.40ZM397.38 174.66h5.40v5.40h-5.40ZM400.25 175.04h5.40v5.40h-5.40ZM403.11 175.40h5.40v5.40h-5.40ZM405.97 175.74h5.40v5.40h-5.40ZM408.83 176.08h5.40v5.40h-5.40ZM411.69 176.39h5.40v5.40h-5.40ZM414.55 176.69h5.40v5.40h-5.40ZM417.42 176.98h5.40v5.40h-5.40ZM420.28 177.24h5.40v5.40h-5.40ZM423.14 177.49h5.40v5.40h-5.40ZM426.00 177.72h5.40v5.40h-5.40ZM428.86 177.92h5.40v5.40h-5.40ZM431.72 178.10h5.40v5.40h-5.40ZM434.59 178.27h5.40v5.40h-5.40ZM437.45 178.41h5.40v5.40h-5.40ZM440.31 178.52h5.40v5.40h-5.40ZM443.17 178.61h5.40v5.40h-5.40ZM446.03 178.68h5.40v5.40h-5.40ZM448.89 178.71h5.40v5.40h-5.40ZM451.76 178.73h5.40v5.40h-5.40ZM454.62 178.71h5.40v5.40h-5.40ZM457.48 178.66h5.40v5.40h-5.40ZM460.34 178.59h5.40v5.40h-5.40ZM463.20 178.49h5.40v5.40h-5.40ZM466.06 178.35h5.40v5.40h-5.40ZM468.93 178.18h5.40v5.40h-5.40ZM471.79 177.98h5.40v5.40h-5.40ZM474.65 177.75h5.40v5.40h-5.40ZM477.51 177.48h5.40v5.40h-5.40ZM480.37 177.17h5.40v5.40h-5.40ZM483.23 176.83h5.40v5.40h-5.40ZM486.09 176.46h5.40v5.40h-5.40ZM488.96 176.04h5.40v5.40h-5.40ZM491.82 175.59h5.40v5.40h-5.40ZM494.68 175.10h5.40v5.40h-5.40ZM497.54 174.56h5.40v5.40h-5.40ZM500.40 173.99h5.40v5.40h-5.40ZM503.26 173.37h5.40v5.40h-5.40ZM506.13 172.72h5.40v5.40h-5.40ZM508.99 172.02h5.40v5.40h-5.40ZM511.85 171.27h5.40v5.40h-5.40ZM514.71 170.48h5.40v5.40h-5.40ZM517.57 169.65h5.40v5.40h-5.40ZM520.43 168.76h5.40v5.40h-5.40ZM523.30 167.83h5.40v5.40h-5.40ZM526.16 166.86h5.40v5.40h-5.40ZM529.02 165.83h5.40v5.40h-5.40ZM531.88 164.75h5.40v5.40h-5.40ZM534.74 163.62h5.40v5.40h-5.40ZM537.60 162.45h5.40v5.40h-5.40ZM540.47 161.21h5.40v5.40h-5.40ZM543.33 159.93h5.40v5.40h-5.40ZM546.19 158.59h5.40v5.40h-5.40ZM549.05 157.20h5.40v5.40h-5.40ZM551.91 155.75h5.40v5.40h-5.40ZM554.77 154.25h5.40v5.40h-5.40ZM557.64 152.68h5.40v5.40h-5.40ZM560.50 151.06h5.40v5.40h-5.40ZM563.36 149.39h5.40v5.40h-5.40ZM566.22 147.65h5.40v5.40h-5.40ZM569.08 145.85h5.40v5.40h-5.40ZM571.94 143.99h5.40v5.40h-5.40ZM574.81 142.07h5.40v5.40h-5.40ZM577.67 140.08h5.40v5.40h-5.40ZM580.53 138.03h5.40v5.40h-5.40ZM583.39 135.92h5.40v5.40h-5.40ZM586.25 133.74h5.40v5.40h-5.40ZM589.11 131.50h5.40v5.40h-5.40ZM591.97 129.19h5.40v5.40h-5.40ZM594.84 126.81h5.40v5.40h-5.40ZM597.70 124.36h5.40v5.40h-5.40ZM600.56 121.85h5.40v5.40h-5.40ZM603.42 119.26h5.40v5.40h-5.40ZM606.28 116.60h5.40v5.40h-5.40ZM609.14 113.87h5.40v5.40h-5.40ZM612.01 111.07h5.40v5.40h-5.40ZM614.87 108.20h5.40v5.40h-5.40ZM617.73 105.25h5.40v5.40h-5.40ZM620.59 102.22h5.40v5.40h-5.40ZM623.45 99.12h5.40v5.40h-5.40ZM626.31 95.95h5.40v5.40h-5.40ZM629.18 92.69h5.40v5.40h-5.40ZM632.04 89.36h5.40v5.40h-5.40ZM634.90 85.95h5.40v5.40h-5.40ZM637.76 82.46h5.40v5.40h-5.40ZM640.62 78.89h5.40v5.40h-5.40ZM643.48 75.23h5.40v5.40h-5.40ZM646.35 71.50h5.40v5.40h-5.40ZM649.21 67.68h5.40v5.40h-5.40ZM652.07 63.77h5.40v5.40h-5.40ZM654.93 59.79h5.40v5.40h-5.40ZM657.79 55.71h5.40v5.40h-5.40ZM660.65 51.55h5.40v5.40h-5.40ZM663.52 47.31h5.40v5.40h-5.40ZM666.38 42.97h5.40v5.40h-5.40ZM669.24 38.55h5.40v5.40h-5.40ZM672.10 34.04h5.40v5.40h-5.40Z" stroke="#80f080" stroke-width="1.3" fill="none"/><path d="M391.50 239.13L394.36 238.26L397.22 237.39L400.08 236.52L402.95 235.67L405.81 234.82L408.67 233.97L411.53 233.12L414.39 232.28L417.25 231.43L420.12 230.59L422.98 229.75L425.84 228.90L428.70 228.05L431.56 227.20L434.42 226.34L437.29 225.48L440.15 224.62L443.01 223.74L445.87 222.86L448.73 221.97L451.59 221.07L454.46 220.15L457.32 219.23L460.18 218.29L463.04 217.35L465.90 216.38L468.76 215.40L471.63 214.41L474.49 213.40L477.35 212.37L480.21 211.32L483.07 210.26L485.93 209.17L488.79 208.06L491.66 206.93L494.52 205.78L497.38 204.60L500.24 203.40L503.10 202.17L505.96 200.91L508.83 199.63L511.69 198.32L514.55 196.98L517.41 195.61L520.27 194.21L523.13 192.77L526.00 191.31L528.86 189.81L531.72 188.27L534.58 186.70L537.44 185.10L540.30 183.45L543.17 181.77L546.03 180.05L548.89 178.29L551.75 176.48L554.61 174.64L557.47 172.75L560.34 170.82L563.20 168.85L566.06 166.83L568.92 164.76L571.78 162.65L574.64 160.49L577.51 158.28L580.37 156.02L583.23 153.71L586.09 151.34L588.95 148.92L591.81 146.45L594.67 143.91L597.54 141.32L600.40 138.67L603.26 135.95L606.12 133.17L608.98 130.33L611.84 127.42L614.71 124.44L617.57 121.39L620.43 118.27L623.29 115.07L626.15 111.80L629.01 108.46L631.88 105.04L634.74 101.54L637.60 97.95L640.46 94.29L643.32 90.54L646.18 86.71L649.05 82.79L651.91 78.79L654.77 74.69L657.63 70.50L660.49 66.22L663.35 61.85L666.22 57.38L669.08 52.81L671.94 48.15L674.80 43.38" stroke="#f00000" stroke-width="1" fill="none"/><path d="M387.80 239.13H395.20M391.50 235.43V242.83M390.66 238.26H398.06M394.36 234.56V241.96M393.52 237.39H400.92M397.22 233.69V241.09M396.38 236.52H403.78M400.08 232.82V240.22M399.25 235.67H406.65M402.95 231.97V239.37M402.11 234.82H409.51M405.81 231.12V238.52M404.97 233.97H412.37M408.67 230.27V237.67M407.83 233.12H415.23M411.53 229.42V236.82M410.69 232.28H418.09M414.39 228.58V235.98M413.55 231.43H420.95M417.25 227.73V235.13M416.42 230.59H423.82M420.12 226.89V234.29M419.28 229.75H426.68M422.98 226.05V233.45M422.14 228.90H429.54M425.84 225.20V232.60M425.00 228.05H432.40M428.70 224.35V231.75M427.86 227.20H435.26M431.56 223.50V230.90M430.72 226.34H438.12M434.42 222.64V230.04M433.59 225.48H440.99M437.29 221.78V229.18M436.45 224.62H443.85M440.15 220.92V228.32M439.31 223.74H446.71M443.01 220.04V227.44M442.17 222.86H449.57M445.87 219.16V226.56M445.03 221.97H452.43M448.73 218.27V225.67M447.89 221.07H455.29M451.59 217.37V224.77M450.76 220.15H458.16M454.46 216.45V223.85M453.62 219.23H461.02M457.32 215.53V222.93M456.48 218.29H463.88M460.18 214.59V221.99M459.34 217.35H466.74M463.04 213.65V221.05M462.20 216.38H469.60M465.90 212.68V220.08M465.06 215.40H472.46M468.76 211.70V219.10M467.93 214.41H475.33M471.63 210.71V218.11M470.79 213.40H478.19M474.49 209.70V217.10M473.65 212.37H481.05M477.35 208.67V216.07M476.51 211.32H483.91M480.21 207.62V215.02M479.37 210.26H486.77M483.07 206.56V213.96M482.23 209.17H489.63M485.93 205.47V212.87M485.09 208.06H492.49M488.79 204.36V211.76M487.96 206.93H495.36M491.66 203.23V210.63M490.82 205.78H498.22M494.52 202.08V209.48M493.68 204.60H501.08M497.38 200.90V208.30M496.54 203.40H503.94M500.24 199.70V207.10M499.40 202.17H506.80M503.10 198.47V205.87M502.26 200.91H509.66M505.96 197.21V204.61M505.13 199.63H512.53M508.83 195.93V203.33M507.99 198.32H515.39M511.69 194.62V202.02M510.85 196.98H518.25M514.55 193.28V200.68M513.71 195.61H521.11M517.41 191.91V199.31M516.57 194.21H523.97M520.27 190.51V197.91M519.43 192.77H526.83M523.13 189.07V196.47M522.30 191.31H529.70M526.00 187.61V195.01M525.16 189.81H532.56M528.86 186.11V193.51M528.02 188.27H535.42M531.72 184.57V191.97M530.88 186.70H538.28M534.58 183.00V190.40M533.74 185.10H541.14M537.44 181.40V188.80M536.60 183.45H544.00M540.30 179.75V187.15M539.47 181.77H546.87M543.17 178.07V185.47M542.33 180.05H549.73M546.03 176.35V183.75M545.19 178.29H552.59M548.89 174.59V181.99M548.05 176.48H555.45M551.75 172.78V180.18M550.91 174.64H558.31M554.61 170.94V178.34M553.77 172.75H561.17M557.47 169.05V176.45M556.64 170.82H564.04M560.34 167.12V174.52M559.50 168.85H566.90M563.20 165.15V172.55M562.36 166.83H569.76M566.06 163.13V170.53M565.22 164.76H572.62M568.92 161.06V168.46M568.08 162.65H575.48M571.78 158.95V166.35M570.94 160.49H578.34M574.64 156.79V164.19M573.81 158.28H581.21M577.51 154.58V161.98M576.67 156.02H584.07M580.37 152.32V159.72M579.53 153.71H586.93M583.23 150.01V157.41M582.39 151.34H589.79M586.09 147.64V155.04M585.25 148.92H592.65M588.95 145.22V152.62M588.11 146.45H595.51M591.81 142.75V150.15M590.97 143.91H598.37M594.67 140.21V147.61M593.84 141.32H601.24M597.54 137.62V145.02M596.70 138.67H604.10M600.40 134.97V142.37M599.56 135.95H606.96M603.26 132.25V139.65M602.42 133.17H609.82M606.12 129.47V136.87M605.28 130.33H612.68M608.98 126.63V134.03M608.14 127.42H615.54M611.84 123.72V131.12M611.01 124.44H618.41M614.71 120.74V128.14M613.87 121.39H621.27M617.57 117.69V125.09M616.73 118.27H624.13M620.43 114.57V121.97M619.59 115.07H626.99M623.29 111.37V118.77M622.45 111.80H629.85M626.15 108.10V115.50M625.31 108.46H632.71M629.01 104.76V112.16M628.18 105.04H635.58M631.88 101.34V108.74M631.04 101.54H638.44M634.74 97.84V105.24M633.90 97.95H641.30M637.60 94.25V101.65M636.76 94.29H644.16M640.46 90.59V97.99M639.62 90.54H647.02M643.32 86.84V94.24M642.48 86.71H649.88M646.18 83.01V90.41M645.35 82.79H652.75M649.05 79.09V86.49M648.21 78.79H655.61M651.91 75.09V82.49M651.07 74.69H658.47M654.77 70.99V78.39M653.93 70.50H661.33M657.63 66.80V74.20M656.79 66.22H664.19M660.49 62.52V69.92M659.65 61.85H667.05M663.35 58.15V65.55M662.52 57.38H669.92M666.22 53.68V61.08M665.38 52.81H672.78M669.08 49.11V56.51M668.24 48.15H675.64M671.94 44.45V51.85M671.10 43.38H678.50M674.80 39.68V47.08" stroke="#f00000" stroke-width="1.3" fill="none"/></g>
<path d="M80.84 248.0v-1.6M80.84 6.0v1.6M106.32 248.0v-1.6M106.32 6.0v1.6M124.39 248.0v-1.6M124.39 6.0v1.6M138.41 248.0v-1.6M138.41 6.0v1.6M149.86 248.0v-1.6M149.86 6.0v1.6M159.54 248.0v-1.6M159.54 6.0v1.6M167.93 248.0v-1.6M167.93 6.0v1.6M175.33 248.0v-1.6M175.33 6.0v1.6M225.49 248.0v-1.6M225.49 6.0v1.6M250.97 248.0v-2.9M250.97 6.0v2.9M269.04 248.0v-1.6M269.04 6.0v1.6M283.06 248.0v-1.6M283.06 6.0v1.6M294.51 248.0v-1.6M294.51 6.0v1.6M304.19 248.0v-1.6M304.19 6.0v1.6M312.58 248.0v-1.6M312.58 6.0v1.6M319.98 248.0v-1.6M319.98 6.0v1.6M37.30 248.0v-2.9M37.30 6.0v2.9M106.32 248.0v-2.9M106.32 6.0v2.9M181.95 248.0v-2.9M181.95 6.0v2.9M250.97 248.0v-2.9M250.97 6.0v2.9M326.60 248.0v-2.9M326.60 6.0v2.9M37.3 248.00h2.9M326.6 248.00h-2.9M37.3 217.75h2.9M326.6 217.75h-2.9M37.3 187.50h2.9M326.6 187.50h-2.9M37.3 157.25h2.9M326.6 157.25h-2.9M37.3 127.00h2.9M326.6 127.00h-2.9M37.3 96.75h2.9M326.6 96.75h-2.9M37.3 66.50h2.9M326.6 66.50h-2.9M37.3 36.25h2.9M326.6 36.25h-2.9M37.3 6.00h2.9M326.6 6.00h-2.9" stroke="#555" stroke-width="0.8" fill="none"/>
<rect x="37.3" y="6.0" width="289.30" height="242.00" fill="none" stroke="#6a6a6a" stroke-width="1"/>
<path d="M434.14 250.4v-1.6M434.14 6.4v1.6M459.08 250.4v-1.6M459.08 6.4v1.6M476.78 250.4v-1.6M476.78 6.4v1.6M490.51 250.4v-1.6M490.51 6.4v1.6M501.73 250.4v-1.6M501.73 6.4v1.6M511.21 250.4v-1.6M511.21 6.4v1.6M519.42 250.4v-1.6M519.42 6.4v1.6M526.67 250.4v-1.6M526.67 6.4v1.6M575.79 250.4v-1.6M575.79 6.4v1.6M600.73 250.4v-2.9M600.73 6.4v2.9M618.43 250.4v-1.6M618.43 6.4v1.6M632.16 250.4v-1.6M632.16 6.4v1.6M643.38 250.4v-1.6M643.38 6.4v1.6M652.86 250.4v-1.6M652.86 6.4v1.6M661.07 250.4v-1.6M661.07 6.4v1.6M668.32 250.4v-1.6M668.32 6.4v1.6M391.50 250.4v-2.9M391.50 6.4v2.9M459.08 250.4v-2.9M459.08 6.4v2.9M533.15 250.4v-2.9M533.15 6.4v2.9M600.73 250.4v-2.9M600.73 6.4v2.9M674.80 250.4v-2.9M674.80 6.4v2.9M391.5 250.40h2.9M674.8 250.40h-2.9M391.5 228.22h2.9M674.8 228.22h-2.9M391.5 206.04h2.9M674.8 206.04h-2.9M391.5 183.85h2.9M674.8 183.85h-2.9M391.5 161.67h2.9M674.8 161.67h-2.9M391.5 139.49h2.9M674.8 139.49h-2.9M391.5 117.31h2.9M674.8 117.31h-2.9M391.5 95.13h2.9M674.8 95.13h-2.9M391.5 72.95h2.9M674.8 72.95h-2.9M391.5 50.76h2.9M674.8 50.76h-2.9M391.5 28.58h2.9M674.8 28.58h-2.9M391.5 6.40h2.9M674.8 6.40h-2.9" stroke="#555" stroke-width="0.8" fill="none"/>
<rect x="391.5" y="6.4" width="283.30" height="244.00" fill="none" stroke="#6a6a6a" stroke-width="1"/>
<rect x="138.6" y="11.4" width="78.2" height="64.6" fill="#fff" stroke="#555" stroke-width="0.8"/>
<path d="M141.3 18.7H168.5" stroke="#0000e6" stroke-width="1"/>
<path d="M152.30 16.20L157.30 21.20M152.30 21.20L157.30 16.20" stroke="#0000e6" stroke-width="1.5" fill="none"/>
<text transform="translate(171.5 22.799999999999997) scale(1.0 1)" class="lg" font-size="10.5" style="filter:grayscale(1)">Δ<tspan font-style="italic">ϕ</tspan> = 0.6π</text>
<path d="M141.3 31.2H168.5" stroke="#1a80e6" stroke-width="1"/>
<path d="M150.90 28.70H158.70L154.80 35.70Z" stroke="#1a80e6" stroke-width="1.1" fill="none"/>
<text transform="translate(171.5 35.3) scale(1.0 1)" class="lg" font-size="10.5" style="filter:grayscale(1)">Δ<tspan font-style="italic">ϕ</tspan> = 0.7π</text>
<path d="M141.3 43.8H168.5" stroke="#10e4ee" stroke-width="1"/>
<path d="M151.10 43.80a3.7 3.7 0 1 0 7.4 0a3.7 3.7 0 1 0 -7.4 0" stroke="#10e4ee" stroke-width="1.2" fill="none"/>
<text transform="translate(171.5 47.9) scale(1.0 1)" class="lg" font-size="10.5" style="filter:grayscale(1)">Δ<tspan font-style="italic">ϕ</tspan> = 0.8π</text>
<path d="M141.3 56.4H168.5" stroke="#86f086" stroke-width="1"/>
<path d="M154.80 51.70L158.20 56.40L154.80 61.10L151.40 56.40Z" stroke="#86f086" stroke-width="1.2" fill="none"/>
<text transform="translate(171.5 60.5) scale(1.0 1)" class="lg" font-size="10.5" style="filter:grayscale(1)">Δ<tspan font-style="italic">ϕ</tspan> = 0.9π</text>
<path d="M141.3 69.0H168.5" stroke="#f08418" stroke-width="1"/>
<path d="M151.10 69.00H158.50M154.80 65.30V72.70" stroke="#f08418" stroke-width="1.2" fill="none"/>
<text transform="translate(171.5 73.1) scale(1.0 1)" class="lg" font-size="10.5" style="filter:grayscale(1)">Δ<tspan font-style="italic">ϕ</tspan> = 1.0π</text>
<rect x="544.6" y="8.4" width="81.0" height="64.0" fill="#fff" stroke="#555" stroke-width="0.8"/>
<path d="M547.6 16.6H577.6" stroke="#0000f0" stroke-width="1"/>
<path d="M558.70 16.60a3.7 3.7 0 1 0 7.4 0a3.7 3.7 0 1 0 -7.4 0" stroke="#0000f0" stroke-width="1.2" fill="none"/>
<text transform="translate(579.6 20.200000000000003) scale(1.11 1)" class="lg" font-size="10.5" style="filter:grayscale(1)">Δ<tspan font-style="italic">ϕ</tspan> =1.1π</text>
<path d="M547.6 28.6H577.6" stroke="#0a80f0" stroke-width="1"/>
<path d="M559.90 26.10L564.90 31.10M559.90 31.10L564.90 26.10" stroke="#0a80f0" stroke-width="1.5" fill="none"/>
<text transform="translate(579.6 32.2) scale(1.11 1)" class="lg" font-size="10.5" style="filter:grayscale(1)">Δ<tspan font-style="italic">ϕ</tspan> =1.2π</text>
<path d="M547.6 40.8H577.6" stroke="#00e8f0" stroke-width="1"/>
<path d="M559.80 36.40L567.10 40.80L559.80 45.20Z" stroke="#00e8f0" stroke-width="1.2" fill="none"/>
<text transform="translate(579.6 44.4) scale(1.11 1)" class="lg" font-size="10.5" style="filter:grayscale(1)">Δ<tspan font-style="italic">ϕ</tspan> =1.3π</text>
<path d="M547.6 53.0H577.6" stroke="#80f080" stroke-width="1"/>
<path d="M559.70 50.30h5.40v5.40h-5.40Z" stroke="#80f080" stroke-width="1.2" fill="none"/>
<text transform="translate(579.6 56.6) scale(1.11 1)" class="lg" font-size="10.5" style="filter:grayscale(1)">Δ<tspan font-style="italic">ϕ</tspan> =1.4π</text>
<path d="M547.6 65.2H577.6" stroke="#f00000" stroke-width="1"/>
<path d="M558.70 65.20H566.10M562.40 61.50V68.90" stroke="#f00000" stroke-width="1.2" fill="none"/>
<text transform="translate(579.6 68.8) scale(1.11 1)" class="lg" font-size="10.5" style="filter:grayscale(1)">Δ<tspan font-style="italic">ϕ</tspan> =1.5π</text>
<g fill="#383838" font-family="Liberation Serif, serif" style="filter:grayscale(1)">
<text transform="translate(33.0 252.20) scale(0.85 1)" text-anchor="end" font-size="12.5">15</text>
<text transform="translate(33.0 221.95) scale(0.85 1)" text-anchor="end" font-size="12.5">20</text>
<text transform="translate(33.0 191.70) scale(0.85 1)" text-anchor="end" font-size="12.5">25</text>
<text transform="translate(33.0 161.45) scale(0.85 1)" text-anchor="end" font-size="12.5">30</text>
<text transform="translate(33.0 131.20) scale(0.85 1)" text-anchor="end" font-size="12.5">35</text>
<text transform="translate(33.0 100.95) scale(0.85 1)" text-anchor="end" font-size="12.5">40</text>
<text transform="translate(33.0 70.70) scale(0.85 1)" text-anchor="end" font-size="12.5">45</text>
<text transform="translate(33.0 40.45) scale(0.85 1)" text-anchor="end" font-size="12.5">50</text>
<text transform="translate(33.0 10.20) scale(0.85 1)" text-anchor="end" font-size="12.5">55</text>
<text transform="translate(37.30 264.0) scale(0.85 1)" text-anchor="middle" font-size="12.5">0.1</text>
<text transform="translate(106.32 264.0) scale(0.85 1)" text-anchor="middle" font-size="12.5">0.3</text>
<text transform="translate(181.95 264.0) scale(0.85 1)" text-anchor="middle" font-size="12.5">1</text>
<text transform="translate(250.97 264.0) scale(0.85 1)" text-anchor="middle" font-size="12.5">3</text>
<text transform="translate(326.60 264.0) scale(0.85 1)" text-anchor="middle" font-size="12.5">10</text>
<text transform="translate(387.6 254.40) scale(1.0 1)" text-anchor="end" font-size="12">0</text>
<text transform="translate(387.6 232.22) scale(1.0 1)" text-anchor="end" font-size="12">5</text>
<text transform="translate(387.6 210.04) scale(1.0 1)" text-anchor="end" font-size="12">10</text>
<text transform="translate(387.6 187.85) scale(1.0 1)" text-anchor="end" font-size="12">15</text>
<text transform="translate(387.6 165.67) scale(1.0 1)" text-anchor="end" font-size="12">20</text>
<text transform="translate(387.6 143.49) scale(1.0 1)" text-anchor="end" font-size="12">25</text>
<text transform="translate(387.6 121.31) scale(1.0 1)" text-anchor="end" font-size="12">30</text>
<text transform="translate(387.6 99.13) scale(1.0 1)" text-anchor="end" font-size="12">35</text>
<text transform="translate(387.6 76.95) scale(1.0 1)" text-anchor="end" font-size="12">40</text>
<text transform="translate(387.6 54.76) scale(1.0 1)" text-anchor="end" font-size="12">45</text>
<text transform="translate(387.6 32.58) scale(1.0 1)" text-anchor="end" font-size="12">50</text>
<text transform="translate(387.6 10.40) scale(1.0 1)" text-anchor="end" font-size="12">55</text>
<text transform="translate(391.50 265.5) scale(1.0 1)" text-anchor="middle" font-size="12">0.1</text>
<text transform="translate(459.08 265.5) scale(1.0 1)" text-anchor="middle" font-size="12">0.3</text>
<text transform="translate(533.15 265.5) scale(1.0 1)" text-anchor="middle" font-size="12">1</text>
<text transform="translate(600.73 265.5) scale(1.0 1)" text-anchor="middle" font-size="12">3</text>
<text transform="translate(674.80 265.5) scale(1.0 1)" text-anchor="middle" font-size="12">10</text>
<text transform="translate(104.6 280.8) scale(0.93 1)" font-size="13">Eccentricity ratio <tspan font-style="italic">e</tspan><tspan font-size="9.62" dy="6" dx="1">1</tspan><tspan dy="-6" dx="1.2">/</tspan><tspan font-style="italic" dx="0.3">e</tspan><tspan font-size="9.62" dy="6" dx="1">2</tspan></text>
<text transform="translate(471.3 280.8) scale(0.99 1)" font-size="13.2">Eccentricity ratio <tspan font-style="italic">e</tspan><tspan font-size="9.77" dy="6" dx="1">1</tspan><tspan dy="-6" dx="1.2">/</tspan><tspan font-style="italic" dx="0.3">e</tspan><tspan font-size="9.77" dy="6" dx="1">2</tspan></text>
<text transform="translate(9.4 134.5) rotate(-90)" text-anchor="middle" font-size="13.0">Fluctuation amplitude of center distance (<tspan font-style="italic">μ</tspan>m)</text>
<text transform="translate(357.3 131.6) rotate(-90)" text-anchor="middle" font-size="12.87">Fluctuation amplitude of center distance (<tspan font-style="italic">μ</tspan>m)</text>
<text x="254.1" y="306.3" text-anchor="middle" font-size="18.4">(a)</text>
<text x="424.3" y="306.3" text-anchor="middle" font-size="18.4">(b)</text>
</g>
</svg>
</body></html>
